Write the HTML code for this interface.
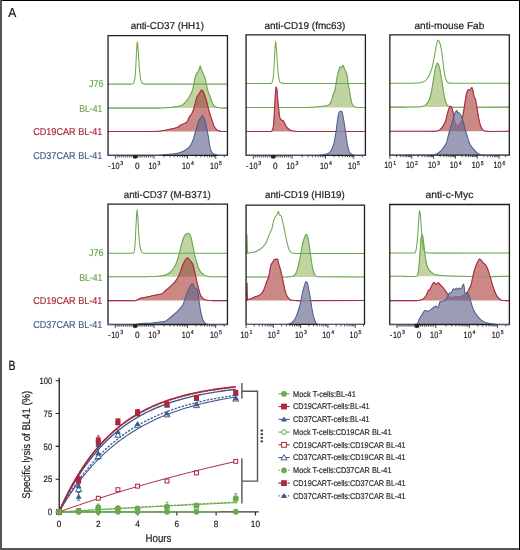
<!DOCTYPE html>
<html><head><meta charset="utf-8"><style>
html,body{margin:0;padding:0;background:#fff;overflow:hidden;width:520px;height:550px;}
svg{display:block;text-rendering:geometricPrecision;will-change:transform;font-family:"Liberation Sans", sans-serif;}
</style></head><body>
<svg width="520" height="550" viewBox="0 0 520 550">
<defs><clipPath id="c1"><path d="M160.00,108.10 L160.00,108.10 C161.80,108.00 163.60,107.93 165.40,107.80 C169.50,107.51 173.60,107.21 177.70,106.50 C179.23,106.23 180.77,105.75 182.30,105.00 C183.83,104.25 185.37,102.26 186.90,100.40 C187.93,99.15 188.97,97.72 190.00,95.80 C191.03,93.88 192.07,91.84 193.10,88.10 C193.60,86.29 194.10,81.72 194.60,79.60 C195.13,77.34 195.67,75.23 196.20,74.20 C196.97,72.72 197.73,72.59 198.50,71.20 C199.10,70.11 199.70,66.10 200.30,66.10 C200.70,66.10 201.10,68.53 201.50,69.60 C202.03,71.02 202.57,72.24 203.10,73.50 C203.77,75.08 204.43,75.94 205.10,78.10 C205.47,79.29 205.83,81.76 206.20,83.50 C206.70,85.88 207.20,88.69 207.70,90.40 C208.47,93.03 209.23,94.45 210.00,96.50 C210.77,98.55 211.53,101.13 212.30,102.70 C213.07,104.27 213.83,106.10 214.60,106.50 C216.13,107.30 217.67,107.57 219.20,107.80 C220.13,107.94 221.07,108.00 222.00,108.10 L222.00,108.10 Z"/></clipPath>
<clipPath id="c2"><path d="M145.00,131.40 L145.00,131.50 C149.73,131.40 154.47,131.39 159.20,131.20 C162.30,131.08 165.40,130.24 168.50,129.60 C170.00,129.29 171.50,128.87 173.00,128.50 C174.57,128.11 176.13,127.92 177.70,127.30 C178.73,126.89 179.77,125.64 180.80,125.00 C182.83,123.75 184.87,123.71 186.90,121.90 C187.67,121.22 188.43,118.62 189.20,117.30 C190.23,115.53 191.27,114.79 192.30,112.70 C193.07,111.15 193.83,108.34 194.60,105.80 C195.37,103.26 196.13,99.05 196.90,97.30 C197.67,95.55 198.43,94.70 199.20,93.50 C199.97,92.30 200.73,90.10 201.50,90.10 C202.03,90.10 202.57,90.62 203.10,91.20 C203.60,91.74 204.10,93.65 204.60,95.00 C205.13,96.44 205.67,97.79 206.20,99.60 C206.70,101.30 207.20,103.85 207.70,105.80 C208.47,108.79 209.23,111.65 210.00,114.20 C210.77,116.75 211.53,119.03 212.30,121.20 C213.07,123.37 213.83,126.16 214.60,127.30 C215.63,128.84 216.67,129.92 217.70,130.40 C218.80,130.91 219.90,131.07 221.00,131.40 L221.00,131.40 Z"/></clipPath>
<clipPath id="c3"><path d="M300.00,107.40 L300.00,107.50 C304.17,107.42 308.33,107.39 312.50,107.25 C315.00,107.16 317.50,106.85 320.00,106.60 C321.67,106.43 323.33,106.30 325.00,106.00 C326.47,105.73 327.93,105.36 329.40,104.40 C330.02,103.99 330.63,102.65 331.25,101.25 C331.87,99.85 332.48,96.83 333.10,95.00 C333.73,93.13 334.37,92.38 335.00,90.00 C335.42,88.43 335.83,85.00 336.25,82.50 C336.67,80.00 337.08,76.81 337.50,75.00 C338.13,72.25 338.77,70.58 339.40,68.75 C339.68,67.93 339.97,66.50 340.25,66.50 C340.67,66.50 341.08,67.50 341.50,67.50 C342.03,67.50 342.57,65.25 343.10,65.25 C343.53,65.25 343.97,67.74 344.40,68.75 C345.02,70.19 345.63,70.83 346.25,72.50 C346.58,73.40 346.92,74.48 347.25,76.25 C347.53,77.76 347.82,81.95 348.10,83.75 C348.53,86.50 348.97,87.64 349.40,90.00 C349.80,92.18 350.20,95.53 350.60,97.50 C351.23,100.62 351.87,104.17 352.50,105.00 C353.33,106.10 354.17,106.60 355.00,106.90 C355.83,107.20 356.67,107.30 357.50,107.50 L357.50,107.40 Z"/></clipPath>
<clipPath id="c4"><path d="M269.00,131.50 L269.00,131.50 C269.67,131.47 270.33,131.47 271.00,131.40 C271.50,131.35 272.00,130.82 272.50,130.00 C272.83,129.45 273.17,127.54 273.50,125.00 C273.73,123.22 273.97,118.77 274.20,115.00 C274.47,110.69 274.73,104.23 275.00,100.00 C275.27,95.77 275.53,90.71 275.80,89.00 C275.97,87.93 276.13,86.80 276.30,86.80 C276.53,86.80 276.77,88.45 277.00,90.00 C277.27,91.77 277.53,97.02 277.80,100.00 C278.13,103.72 278.47,107.32 278.80,110.00 C279.20,113.22 279.60,117.09 280.00,118.00 C280.50,119.14 281.00,119.73 281.50,120.00 C282.00,120.27 282.50,120.22 283.00,120.50 C283.50,120.78 284.00,122.09 284.50,123.00 C285.00,123.91 285.50,125.22 286.00,126.00 C286.67,127.04 287.33,127.91 288.00,128.50 C289.00,129.39 290.00,130.18 291.00,130.50 C292.33,130.92 293.67,131.17 295.00,131.30 C296.00,131.40 297.00,131.43 298.00,131.50 L298.00,131.50 Z"/></clipPath>
<clipPath id="c5"><path d="M405.00,107.10 L405.00,107.20 C410.30,107.03 415.60,107.06 420.90,106.70 C422.50,106.59 424.10,105.87 425.70,104.90 C426.60,104.35 427.50,103.05 428.40,101.50 C429.10,100.29 429.80,98.46 430.50,96.00 C431.03,94.12 431.57,90.76 432.10,87.80 C432.70,84.47 433.30,80.39 433.90,76.90 C434.47,73.61 435.03,69.40 435.60,67.40 C436.17,65.40 436.73,63.00 437.30,63.00 C437.73,63.00 438.17,63.80 438.60,64.60 C439.17,65.65 439.73,68.75 440.30,71.50 C440.90,74.41 441.50,78.66 442.10,82.40 C442.67,85.93 443.23,90.18 443.80,93.30 C444.37,96.42 444.93,99.85 445.50,101.50 C446.17,103.44 446.83,105.11 447.50,105.60 C448.63,106.42 449.77,106.87 450.90,107.00 C451.93,107.11 452.97,107.13 454.00,107.20 L454.00,107.10 Z"/></clipPath>
<clipPath id="c6"><path d="M432.00,131.30 L432.00,131.40 C433.00,131.37 434.00,131.36 435.00,131.30 C436.40,131.22 437.80,130.85 439.20,130.30 C440.27,129.88 441.33,128.49 442.40,127.10 C443.43,125.75 444.47,124.04 445.50,121.30 C446.03,119.89 446.57,116.95 447.10,114.90 C447.67,112.72 448.23,109.86 448.80,108.60 C449.30,107.49 449.80,106.20 450.30,106.20 C450.83,106.20 451.37,107.06 451.90,108.00 C452.40,108.88 452.90,111.64 453.40,113.90 C453.80,115.71 454.20,118.78 454.60,120.20 C455.13,122.10 455.67,123.74 456.20,124.40 C456.73,125.06 457.27,125.70 457.80,125.70 C458.50,125.70 459.20,124.39 459.90,123.40 C460.60,122.41 461.30,121.20 462.00,119.20 C462.53,117.68 463.07,114.62 463.60,111.70 C464.13,108.78 464.67,104.44 465.20,101.20 C465.70,98.16 466.20,94.19 466.70,92.70 C467.23,91.12 467.77,89.50 468.30,89.50 C468.77,89.50 469.23,90.10 469.70,90.10 C470.13,90.10 470.57,88.95 471.00,88.50 C471.33,88.16 471.67,87.60 472.00,87.60 C472.37,87.60 472.73,90.08 473.10,91.60 C473.47,93.12 473.83,96.03 474.20,96.90 C474.53,97.69 474.87,97.73 475.20,98.50 C475.57,99.35 475.93,101.40 476.30,103.30 C476.63,105.02 476.97,107.55 477.30,109.60 C477.83,112.88 478.37,116.66 478.90,119.20 C479.43,121.74 479.97,124.06 480.50,125.50 C481.20,127.38 481.90,129.12 482.60,129.70 C483.67,130.59 484.73,131.24 485.80,131.30 C486.87,131.36 487.93,131.37 489.00,131.40 L489.00,131.30 Z"/></clipPath>
<clipPath id="c7"><path d="M140.00,276.70 L140.00,276.80 C144.10,276.70 148.20,276.64 152.30,276.50 C154.20,276.43 156.10,276.33 158.00,276.20 C159.87,276.07 161.73,275.92 163.60,275.60 C165.43,275.28 167.27,274.36 169.10,273.20 C170.93,272.04 172.77,269.80 174.60,266.80 C175.80,264.84 177.00,261.47 178.20,257.70 C179.10,254.87 180.00,250.11 180.90,246.80 C181.80,243.49 182.70,239.59 183.60,237.70 C184.40,236.02 185.20,234.47 186.00,234.00 C186.73,233.57 187.47,233.20 188.20,233.20 C188.80,233.20 189.40,234.08 190.00,235.00 C190.33,235.51 190.67,236.62 191.00,237.70 C191.57,239.54 192.13,242.37 192.70,245.00 C193.30,247.78 193.90,251.48 194.50,254.10 C195.13,256.87 195.77,259.25 196.40,261.40 C197.30,264.45 198.20,267.88 199.10,269.50 C200.33,271.72 201.57,273.22 202.80,274.10 C204.30,275.17 205.80,276.04 207.30,276.30 C208.87,276.58 210.43,276.63 212.00,276.80 L212.00,276.70 Z"/></clipPath>
<clipPath id="c8"><path d="M133.00,300.60 L133.00,300.80 C133.77,300.80 134.53,300.80 135.30,300.80 C136.20,300.80 137.10,300.02 138.00,299.60 C139.10,299.09 140.20,298.28 141.30,298.00 C142.67,297.65 144.03,297.55 145.40,297.30 C147.20,296.97 149.00,296.60 150.80,296.20 C152.57,295.81 154.33,295.25 156.10,294.90 C157.90,294.54 159.70,294.52 161.50,294.00 C162.83,293.61 164.17,291.65 165.50,290.50 C167.30,288.95 169.10,287.54 170.90,285.90 C172.13,284.77 173.37,283.77 174.60,282.30 C175.80,280.87 177.00,279.04 178.20,276.80 C179.10,275.12 180.00,272.90 180.90,270.50 C181.50,268.90 182.10,266.46 182.70,265.00 C183.63,262.73 184.57,260.71 185.50,259.50 C186.10,258.72 186.70,257.70 187.30,257.70 C188.20,257.70 189.10,259.45 190.00,260.50 C190.90,261.55 191.80,262.30 192.70,264.10 C193.30,265.30 193.90,268.05 194.50,270.50 C195.13,273.08 195.77,276.84 196.40,279.60 C197.00,282.21 197.60,284.59 198.20,286.80 C199.10,290.11 200.00,294.48 200.90,295.90 C202.10,297.80 203.30,299.05 204.50,299.50 C206.00,300.06 207.50,300.42 209.00,300.50 C210.00,300.56 211.00,300.57 212.00,300.60 L212.00,300.60 Z"/></clipPath>
<clipPath id="c9"><path d="M288.00,276.90 L288.00,276.80 C288.67,276.80 289.33,276.80 290.00,276.80 C291.33,276.80 292.67,276.24 294.00,275.50 C294.83,275.04 295.67,273.69 296.50,272.00 C297.17,270.65 297.83,267.68 298.50,265.00 C299.00,262.99 299.50,260.49 300.00,258.00 C300.50,255.51 301.00,252.51 301.50,250.00 C302.13,246.81 302.77,243.29 303.40,241.00 C303.97,238.95 304.53,237.06 305.10,236.00 C305.50,235.25 305.90,234.30 306.30,234.30 C306.70,234.30 307.10,235.11 307.50,236.00 C307.93,236.96 308.37,240.46 308.80,243.00 C309.27,245.73 309.73,248.73 310.20,252.00 C310.63,255.04 311.07,259.26 311.50,262.00 C312.00,265.16 312.50,268.27 313.00,270.00 C313.67,272.31 314.33,274.33 315.00,275.00 C316.00,276.01 317.00,276.80 318.00,276.80 C318.67,276.80 319.33,276.80 320.00,276.80 L320.00,276.90 Z"/></clipPath>
<clipPath id="c10"><path d="M247.00,300.50 L247.00,282.80 C247.17,288.27 247.33,299.20 247.50,299.20 C248.00,299.20 248.50,299.20 249.00,299.20 C250.17,299.20 251.33,298.55 252.50,298.10 C253.53,297.70 254.57,297.02 255.60,296.60 C256.67,296.17 257.73,296.01 258.80,295.50 C259.70,295.07 260.60,294.34 261.50,293.40 C262.20,292.67 262.90,291.57 263.60,290.20 C264.13,289.16 264.67,287.49 265.20,286.00 C265.73,284.51 266.27,282.53 266.80,281.20 C267.30,279.96 267.80,279.45 268.30,278.00 C268.67,276.94 269.03,275.11 269.40,273.30 C269.77,271.49 270.13,268.38 270.50,266.90 C270.83,265.56 271.17,264.45 271.50,263.80 C272.03,262.75 272.57,262.46 273.10,261.60 C273.47,261.01 273.83,259.60 274.20,259.50 C274.70,259.37 275.20,259.37 275.70,259.30 C276.37,259.21 277.03,259.00 277.70,259.00 C277.93,259.00 278.17,261.72 278.40,262.70 C278.93,264.94 279.47,266.08 280.00,268.00 C280.53,269.92 281.07,272.03 281.60,274.30 C282.13,276.57 282.67,279.14 283.20,281.70 C283.70,284.10 284.20,287.23 284.70,289.20 C285.23,291.31 285.77,293.16 286.30,294.40 C287.00,296.02 287.70,297.39 288.40,298.10 C289.47,299.19 290.53,300.16 291.60,300.30 C293.07,300.49 294.53,300.50 296.00,300.60 L296.00,300.50 Z"/></clipPath>
<clipPath id="c11"><path d="M405.00,276.30 L405.00,276.60 C408.87,276.53 412.73,276.58 416.60,276.40 C417.07,276.38 417.53,274.89 418.00,273.20 C418.43,271.63 418.87,266.84 419.30,262.30 C419.63,258.81 419.97,253.26 420.30,248.70 C420.57,245.05 420.83,238.93 421.10,237.70 C421.43,236.16 421.77,235.36 422.10,235.00 C422.23,234.86 422.37,234.70 422.50,234.70 C422.80,234.70 423.10,238.20 423.40,240.50 C423.73,243.05 424.07,247.21 424.40,250.00 C424.77,253.07 425.13,255.93 425.50,258.20 C425.93,260.88 426.37,263.58 426.80,265.00 C427.50,267.30 428.20,268.81 428.90,269.80 C429.80,271.07 430.70,271.81 431.60,272.50 C432.73,273.37 433.87,274.29 435.00,274.60 C436.83,275.10 438.67,275.35 440.50,275.50 C443.67,275.76 446.83,275.90 450.00,276.00 C456.67,276.20 463.33,276.31 470.00,276.40 C476.67,276.49 483.33,276.53 490.00,276.60 L490.00,276.30 Z"/></clipPath>
<clipPath id="c12"><path d="M412.00,300.60 L412.00,300.60 C413.00,300.60 414.00,300.60 415.00,300.60 C417.43,300.60 419.87,300.15 422.30,299.40 C423.53,299.02 424.77,297.38 426.00,295.70 C426.90,294.47 427.80,291.15 428.70,290.20 C429.13,289.74 429.57,289.67 430.00,289.20 C430.57,288.58 431.13,286.81 431.70,285.80 C432.43,284.49 433.17,282.30 433.90,282.30 C434.63,282.30 435.37,284.50 436.10,284.50 C436.80,284.50 437.50,282.80 438.20,282.80 C438.93,282.80 439.67,284.18 440.40,284.90 C441.27,285.75 442.13,286.51 443.00,287.50 C443.87,288.49 444.73,289.80 445.60,291.00 C446.30,291.97 447.00,293.14 447.70,294.00 C448.73,295.27 449.77,297.30 450.80,297.30 C451.67,297.30 452.53,297.13 453.40,297.00 C454.27,296.87 455.13,296.40 456.00,296.40 C457.13,296.40 458.27,296.60 459.40,296.60 C460.57,296.60 461.73,295.86 462.90,295.30 C463.77,294.88 464.63,294.19 465.50,293.60 C466.07,293.21 466.63,292.98 467.20,292.40 C467.77,291.82 468.33,290.27 468.90,289.20 C469.50,288.07 470.10,287.38 470.70,285.80 C471.27,284.31 471.83,280.91 472.40,278.50 C473.07,275.67 473.73,272.27 474.40,270.10 C475.33,267.06 476.27,264.69 477.20,262.80 C477.93,261.31 478.67,259.10 479.40,259.10 C480.00,259.10 480.60,259.61 481.20,260.10 C481.80,260.59 482.40,262.19 483.00,262.80 C483.80,263.61 484.60,263.73 485.40,264.60 C486.30,265.58 487.20,267.84 488.10,270.10 C489.03,272.44 489.97,276.19 490.90,279.30 C491.80,282.29 492.70,285.97 493.60,288.40 C494.83,291.73 496.07,295.10 497.30,296.60 C498.80,298.43 500.30,300.06 501.80,300.30 C502.87,300.47 503.93,300.50 505.00,300.60 L505.00,300.60 Z"/></clipPath></defs>
<rect x="0" y="0" width="520" height="550" fill="#fff"/>
<text x="8.20" y="17.10" font-size="13.00" fill="#111" text-anchor="start" textLength="8.00" lengthAdjust="spacingAndGlyphs" stroke="#111" stroke-width="0.20" >A</text>
<path d="M160.00,108.10 L160.00,108.10 C161.80,108.00 163.60,107.93 165.40,107.80 C169.50,107.51 173.60,107.21 177.70,106.50 C179.23,106.23 180.77,105.75 182.30,105.00 C183.83,104.25 185.37,102.26 186.90,100.40 C187.93,99.15 188.97,97.72 190.00,95.80 C191.03,93.88 192.07,91.84 193.10,88.10 C193.60,86.29 194.10,81.72 194.60,79.60 C195.13,77.34 195.67,75.23 196.20,74.20 C196.97,72.72 197.73,72.59 198.50,71.20 C199.10,70.11 199.70,66.10 200.30,66.10 C200.70,66.10 201.10,68.53 201.50,69.60 C202.03,71.02 202.57,72.24 203.10,73.50 C203.77,75.08 204.43,75.94 205.10,78.10 C205.47,79.29 205.83,81.76 206.20,83.50 C206.70,85.88 207.20,88.69 207.70,90.40 C208.47,93.03 209.23,94.45 210.00,96.50 C210.77,98.55 211.53,101.13 212.30,102.70 C213.07,104.27 213.83,106.10 214.60,106.50 C216.13,107.30 217.67,107.57 219.20,107.80 C220.13,107.94 221.07,108.00 222.00,108.10 L222.00,108.10 Z" fill="#c0d3a1"/>
<path d="M108.05,84.10 L131.50,84.10 L131.50,84.10 C132.07,83.93 132.63,83.91 133.20,83.60 C133.67,83.35 134.13,81.97 134.60,80.00 C134.93,78.59 135.27,74.47 135.60,70.00 C135.90,65.98 136.20,56.74 136.50,52.00 C136.77,47.79 137.03,41.50 137.30,41.50 C137.60,41.50 137.90,46.45 138.20,50.00 C138.53,53.94 138.87,61.77 139.20,66.00 C139.53,70.23 139.87,74.35 140.20,76.50 C140.60,79.08 141.00,81.26 141.40,82.00 C141.93,82.99 142.47,83.65 143.00,83.80 C143.67,83.98 144.33,84.00 145.00,84.10 L227.45,84.10" fill="none" stroke="#6ca84f" stroke-width="1.05"/>
<path d="M108.05,108.10 L160.00,108.10 L160.00,108.10 C161.80,108.00 163.60,107.93 165.40,107.80 C169.50,107.51 173.60,107.21 177.70,106.50 C179.23,106.23 180.77,105.75 182.30,105.00 C183.83,104.25 185.37,102.26 186.90,100.40 C187.93,99.15 188.97,97.72 190.00,95.80 C191.03,93.88 192.07,91.84 193.10,88.10 C193.60,86.29 194.10,81.72 194.60,79.60 C195.13,77.34 195.67,75.23 196.20,74.20 C196.97,72.72 197.73,72.59 198.50,71.20 C199.10,70.11 199.70,66.10 200.30,66.10 C200.70,66.10 201.10,68.53 201.50,69.60 C202.03,71.02 202.57,72.24 203.10,73.50 C203.77,75.08 204.43,75.94 205.10,78.10 C205.47,79.29 205.83,81.76 206.20,83.50 C206.70,85.88 207.20,88.69 207.70,90.40 C208.47,93.03 209.23,94.45 210.00,96.50 C210.77,98.55 211.53,101.13 212.30,102.70 C213.07,104.27 213.83,106.10 214.60,106.50 C216.13,107.30 217.67,107.57 219.20,107.80 C220.13,107.94 221.07,108.00 222.00,108.10 L227.45,108.10" fill="none" stroke="#6ca84f" stroke-width="1.05"/>
<path d="M145.00,131.40 L145.00,131.50 C149.73,131.40 154.47,131.39 159.20,131.20 C162.30,131.08 165.40,130.24 168.50,129.60 C170.00,129.29 171.50,128.87 173.00,128.50 C174.57,128.11 176.13,127.92 177.70,127.30 C178.73,126.89 179.77,125.64 180.80,125.00 C182.83,123.75 184.87,123.71 186.90,121.90 C187.67,121.22 188.43,118.62 189.20,117.30 C190.23,115.53 191.27,114.79 192.30,112.70 C193.07,111.15 193.83,108.34 194.60,105.80 C195.37,103.26 196.13,99.05 196.90,97.30 C197.67,95.55 198.43,94.70 199.20,93.50 C199.97,92.30 200.73,90.10 201.50,90.10 C202.03,90.10 202.57,90.62 203.10,91.20 C203.60,91.74 204.10,93.65 204.60,95.00 C205.13,96.44 205.67,97.79 206.20,99.60 C206.70,101.30 207.20,103.85 207.70,105.80 C208.47,108.79 209.23,111.65 210.00,114.20 C210.77,116.75 211.53,119.03 212.30,121.20 C213.07,123.37 213.83,126.16 214.60,127.30 C215.63,128.84 216.67,129.92 217.70,130.40 C218.80,130.91 219.90,131.07 221.00,131.40 L221.00,131.40 Z" fill="#cb8884"/>
<path d="M145.00,131.40 L145.00,131.50 C149.73,131.40 154.47,131.39 159.20,131.20 C162.30,131.08 165.40,130.24 168.50,129.60 C170.00,129.29 171.50,128.87 173.00,128.50 C174.57,128.11 176.13,127.92 177.70,127.30 C178.73,126.89 179.77,125.64 180.80,125.00 C182.83,123.75 184.87,123.71 186.90,121.90 C187.67,121.22 188.43,118.62 189.20,117.30 C190.23,115.53 191.27,114.79 192.30,112.70 C193.07,111.15 193.83,108.34 194.60,105.80 C195.37,103.26 196.13,99.05 196.90,97.30 C197.67,95.55 198.43,94.70 199.20,93.50 C199.97,92.30 200.73,90.10 201.50,90.10 C202.03,90.10 202.57,90.62 203.10,91.20 C203.60,91.74 204.10,93.65 204.60,95.00 C205.13,96.44 205.67,97.79 206.20,99.60 C206.70,101.30 207.20,103.85 207.70,105.80 C208.47,108.79 209.23,111.65 210.00,114.20 C210.77,116.75 211.53,119.03 212.30,121.20 C213.07,123.37 213.83,126.16 214.60,127.30 C215.63,128.84 216.67,129.92 217.70,130.40 C218.80,130.91 219.90,131.07 221.00,131.40 L221.00,131.40 Z" fill="#ab7866" clip-path="url(#c1)"/>
<path d="M108.05,108.10 L160.00,108.10 L160.00,108.10 C161.80,108.00 163.60,107.93 165.40,107.80 C169.50,107.51 173.60,107.21 177.70,106.50 C179.23,106.23 180.77,105.75 182.30,105.00 C183.83,104.25 185.37,102.26 186.90,100.40 C187.93,99.15 188.97,97.72 190.00,95.80 C191.03,93.88 192.07,91.84 193.10,88.10 C193.60,86.29 194.10,81.72 194.60,79.60 C195.13,77.34 195.67,75.23 196.20,74.20 C196.97,72.72 197.73,72.59 198.50,71.20 C199.10,70.11 199.70,66.10 200.30,66.10 C200.70,66.10 201.10,68.53 201.50,69.60 C202.03,71.02 202.57,72.24 203.10,73.50 C203.77,75.08 204.43,75.94 205.10,78.10 C205.47,79.29 205.83,81.76 206.20,83.50 C206.70,85.88 207.20,88.69 207.70,90.40 C208.47,93.03 209.23,94.45 210.00,96.50 C210.77,98.55 211.53,101.13 212.30,102.70 C213.07,104.27 213.83,106.10 214.60,106.50 C216.13,107.30 217.67,107.57 219.20,107.80 C220.13,107.94 221.07,108.00 222.00,108.10 L227.45,108.10" fill="none" stroke="#6ca84f" stroke-width="1.05" opacity="0.35"/>
<path d="M108.05,131.40 L145.00,131.40 L145.00,131.50 C149.73,131.40 154.47,131.39 159.20,131.20 C162.30,131.08 165.40,130.24 168.50,129.60 C170.00,129.29 171.50,128.87 173.00,128.50 C174.57,128.11 176.13,127.92 177.70,127.30 C178.73,126.89 179.77,125.64 180.80,125.00 C182.83,123.75 184.87,123.71 186.90,121.90 C187.67,121.22 188.43,118.62 189.20,117.30 C190.23,115.53 191.27,114.79 192.30,112.70 C193.07,111.15 193.83,108.34 194.60,105.80 C195.37,103.26 196.13,99.05 196.90,97.30 C197.67,95.55 198.43,94.70 199.20,93.50 C199.97,92.30 200.73,90.10 201.50,90.10 C202.03,90.10 202.57,90.62 203.10,91.20 C203.60,91.74 204.10,93.65 204.60,95.00 C205.13,96.44 205.67,97.79 206.20,99.60 C206.70,101.30 207.20,103.85 207.70,105.80 C208.47,108.79 209.23,111.65 210.00,114.20 C210.77,116.75 211.53,119.03 212.30,121.20 C213.07,123.37 213.83,126.16 214.60,127.30 C215.63,128.84 216.67,129.92 217.70,130.40 C218.80,130.91 219.90,131.07 221.00,131.40 L227.45,131.40" fill="none" stroke="#aa2a42" stroke-width="1.05"/>
<path d="M158.00,155.30 L158.00,155.30 C160.47,155.07 162.93,154.82 165.40,154.60 C168.47,154.32 171.53,154.20 174.60,153.80 C176.67,153.53 178.73,152.98 180.80,152.30 C182.83,151.63 184.87,150.64 186.90,149.20 C188.20,148.28 189.50,146.97 190.80,145.00 C191.40,144.09 192.00,142.56 192.60,141.00 C193.33,139.09 194.07,136.41 194.80,134.00 C195.53,131.59 196.27,129.06 197.00,126.50 C197.47,124.87 197.93,122.67 198.40,121.50 C198.67,120.83 198.93,120.28 199.20,119.90 C199.63,119.28 200.07,119.03 200.50,118.50 C201.17,117.68 201.83,115.60 202.50,115.60 C202.93,115.60 203.37,116.87 203.80,117.70 C204.27,118.59 204.73,119.54 205.20,121.00 C205.73,122.67 206.27,125.96 206.80,128.60 C207.37,131.41 207.93,133.96 208.50,137.40 C208.83,139.42 209.17,142.71 209.50,144.50 C210.00,147.18 210.50,149.70 211.00,150.80 C211.70,152.33 212.40,153.46 213.10,153.80 C214.63,154.54 216.17,154.74 217.70,155.00 C218.47,155.13 219.23,155.20 220.00,155.30 L220.00,155.30 Z" fill="#9b9db7"/>
<path d="M158.00,155.30 L158.00,155.30 C160.47,155.07 162.93,154.82 165.40,154.60 C168.47,154.32 171.53,154.20 174.60,153.80 C176.67,153.53 178.73,152.98 180.80,152.30 C182.83,151.63 184.87,150.64 186.90,149.20 C188.20,148.28 189.50,146.97 190.80,145.00 C191.40,144.09 192.00,142.56 192.60,141.00 C193.33,139.09 194.07,136.41 194.80,134.00 C195.53,131.59 196.27,129.06 197.00,126.50 C197.47,124.87 197.93,122.67 198.40,121.50 C198.67,120.83 198.93,120.28 199.20,119.90 C199.63,119.28 200.07,119.03 200.50,118.50 C201.17,117.68 201.83,115.60 202.50,115.60 C202.93,115.60 203.37,116.87 203.80,117.70 C204.27,118.59 204.73,119.54 205.20,121.00 C205.73,122.67 206.27,125.96 206.80,128.60 C207.37,131.41 207.93,133.96 208.50,137.40 C208.83,139.42 209.17,142.71 209.50,144.50 C210.00,147.18 210.50,149.70 211.00,150.80 C211.70,152.33 212.40,153.46 213.10,153.80 C214.63,154.54 216.17,154.74 217.70,155.00 C218.47,155.13 219.23,155.20 220.00,155.30 L220.00,155.30 Z" fill="#8a7088" clip-path="url(#c2)"/>
<path d="M108.05,131.40 L145.00,131.40 L145.00,131.50 C149.73,131.40 154.47,131.39 159.20,131.20 C162.30,131.08 165.40,130.24 168.50,129.60 C170.00,129.29 171.50,128.87 173.00,128.50 C174.57,128.11 176.13,127.92 177.70,127.30 C178.73,126.89 179.77,125.64 180.80,125.00 C182.83,123.75 184.87,123.71 186.90,121.90 C187.67,121.22 188.43,118.62 189.20,117.30 C190.23,115.53 191.27,114.79 192.30,112.70 C193.07,111.15 193.83,108.34 194.60,105.80 C195.37,103.26 196.13,99.05 196.90,97.30 C197.67,95.55 198.43,94.70 199.20,93.50 C199.97,92.30 200.73,90.10 201.50,90.10 C202.03,90.10 202.57,90.62 203.10,91.20 C203.60,91.74 204.10,93.65 204.60,95.00 C205.13,96.44 205.67,97.79 206.20,99.60 C206.70,101.30 207.20,103.85 207.70,105.80 C208.47,108.79 209.23,111.65 210.00,114.20 C210.77,116.75 211.53,119.03 212.30,121.20 C213.07,123.37 213.83,126.16 214.60,127.30 C215.63,128.84 216.67,129.92 217.70,130.40 C218.80,130.91 219.90,131.07 221.00,131.40 L227.45,131.40" fill="none" stroke="#aa2a42" stroke-width="1.05" opacity="0.35"/>
<path d="M108.05,35.55 L227.45,35.55 L227.45,155.30 L108.05,155.30 Z" fill="none" stroke="#1e1e1e" stroke-width="1.3"/>
<path d="M108.05,155.30 L158.00,155.30 L158.00,155.30 C160.47,155.07 162.93,154.82 165.40,154.60 C168.47,154.32 171.53,154.20 174.60,153.80 C176.67,153.53 178.73,152.98 180.80,152.30 C182.83,151.63 184.87,150.64 186.90,149.20 C188.20,148.28 189.50,146.97 190.80,145.00 C191.40,144.09 192.00,142.56 192.60,141.00 C193.33,139.09 194.07,136.41 194.80,134.00 C195.53,131.59 196.27,129.06 197.00,126.50 C197.47,124.87 197.93,122.67 198.40,121.50 C198.67,120.83 198.93,120.28 199.20,119.90 C199.63,119.28 200.07,119.03 200.50,118.50 C201.17,117.68 201.83,115.60 202.50,115.60 C202.93,115.60 203.37,116.87 203.80,117.70 C204.27,118.59 204.73,119.54 205.20,121.00 C205.73,122.67 206.27,125.96 206.80,128.60 C207.37,131.41 207.93,133.96 208.50,137.40 C208.83,139.42 209.17,142.71 209.50,144.50 C210.00,147.18 210.50,149.70 211.00,150.80 C211.70,152.33 212.40,153.46 213.10,153.80 C214.63,154.54 216.17,154.74 217.70,155.00 C218.47,155.13 219.23,155.20 220.00,155.30 L227.45,155.30" fill="none" stroke="#46618e" stroke-width="1.05"/>
<text x="130.70" y="28.80" font-size="10.00" fill="#222" text-anchor="start" textLength="73.30" lengthAdjust="spacingAndGlyphs" stroke="#222" stroke-width="0.20" >anti-CD37 (HH1)</text>
<path d="M115.30,155.30 v3.60 M135.25,155.30 v3.60 M154.05,155.30 v3.60 M187.55,155.30 v3.60 M215.75,155.30 v3.60 M133.25,155.30 v2.20 M137.13,155.30 v2.20 M135.05,155.30 v2.80 M135.44,155.30 v2.80 M131.26,155.30 v2.20 M139.01,155.30 v2.20 M134.85,155.30 v2.80 M135.63,155.30 v2.80 M129.26,155.30 v2.20 M140.89,155.30 v2.20 M134.65,155.30 v2.80 M135.81,155.30 v2.80 M127.27,155.30 v2.20 M142.77,155.30 v2.20 M134.45,155.30 v2.80 M136.00,155.30 v2.80 M125.28,155.30 v2.20 M144.65,155.30 v2.20 M134.25,155.30 v2.80 M136.19,155.30 v2.80 M123.28,155.30 v2.20 M146.53,155.30 v2.20 M134.05,155.30 v2.80 M136.38,155.30 v2.80 M121.28,155.30 v2.20 M148.41,155.30 v2.20 M133.85,155.30 v2.80 M136.57,155.30 v2.80 M119.29,155.30 v2.20 M150.29,155.30 v2.20 M133.65,155.30 v2.80 M136.75,155.30 v2.80 M117.29,155.30 v2.20 M152.17,155.30 v2.20 M133.45,155.30 v2.80 M136.94,155.30 v2.80 M164.13,155.30 v2.00 M170.03,155.30 v2.00 M174.22,155.30 v2.00 M177.47,155.30 v2.00 M180.12,155.30 v2.00 M182.36,155.30 v2.00 M184.30,155.30 v2.00 M186.02,155.30 v2.00 M196.04,155.30 v2.00 M201.00,155.30 v2.00 M204.53,155.30 v2.00 M207.26,155.30 v2.00 M209.49,155.30 v2.00 M211.38,155.30 v2.00 M213.02,155.30 v2.00 M214.46,155.30 v2.00 M224.24,155.30 v2.00 " stroke="#222" stroke-width="0.8" fill="none"/>
<text x="107.95" y="168.50" font-size="9.00" fill="#222" text-anchor="start" textLength="2.60" lengthAdjust="spacingAndGlyphs" stroke="#222" stroke-width="0.20" >-</text>
<text x="111.35" y="168.50" font-size="9.00" fill="#222" text-anchor="start" textLength="8.10" lengthAdjust="spacingAndGlyphs" stroke="#222" stroke-width="0.20" >10</text>
<text x="120.35" y="165.10" font-size="5.80" fill="#222" text-anchor="start" textLength="2.90" lengthAdjust="spacingAndGlyphs" stroke="#222" stroke-width="0.20" >3</text>
<text x="137.35" y="168.50" font-size="9.00" fill="#222" text-anchor="middle" textLength="4.60" lengthAdjust="spacingAndGlyphs" stroke="#222" stroke-width="0.20" >0</text>
<text x="148.40" y="168.50" font-size="9.00" fill="#222" text-anchor="start" textLength="8.10" lengthAdjust="spacingAndGlyphs" stroke="#222" stroke-width="0.20" >10</text>
<text x="157.40" y="165.10" font-size="5.80" fill="#222" text-anchor="start" textLength="2.90" lengthAdjust="spacingAndGlyphs" stroke="#222" stroke-width="0.20" >3</text>
<text x="181.90" y="168.50" font-size="9.00" fill="#222" text-anchor="start" textLength="8.10" lengthAdjust="spacingAndGlyphs" stroke="#222" stroke-width="0.20" >10</text>
<text x="190.90" y="165.10" font-size="5.80" fill="#222" text-anchor="start" textLength="2.90" lengthAdjust="spacingAndGlyphs" stroke="#222" stroke-width="0.20" >4</text>
<text x="210.10" y="168.50" font-size="9.00" fill="#222" text-anchor="start" textLength="8.10" lengthAdjust="spacingAndGlyphs" stroke="#222" stroke-width="0.20" >10</text>
<text x="219.10" y="165.10" font-size="5.80" fill="#222" text-anchor="start" textLength="2.90" lengthAdjust="spacingAndGlyphs" stroke="#222" stroke-width="0.20" >5</text>
<path d="M300.00,107.40 L300.00,107.50 C304.17,107.42 308.33,107.39 312.50,107.25 C315.00,107.16 317.50,106.85 320.00,106.60 C321.67,106.43 323.33,106.30 325.00,106.00 C326.47,105.73 327.93,105.36 329.40,104.40 C330.02,103.99 330.63,102.65 331.25,101.25 C331.87,99.85 332.48,96.83 333.10,95.00 C333.73,93.13 334.37,92.38 335.00,90.00 C335.42,88.43 335.83,85.00 336.25,82.50 C336.67,80.00 337.08,76.81 337.50,75.00 C338.13,72.25 338.77,70.58 339.40,68.75 C339.68,67.93 339.97,66.50 340.25,66.50 C340.67,66.50 341.08,67.50 341.50,67.50 C342.03,67.50 342.57,65.25 343.10,65.25 C343.53,65.25 343.97,67.74 344.40,68.75 C345.02,70.19 345.63,70.83 346.25,72.50 C346.58,73.40 346.92,74.48 347.25,76.25 C347.53,77.76 347.82,81.95 348.10,83.75 C348.53,86.50 348.97,87.64 349.40,90.00 C349.80,92.18 350.20,95.53 350.60,97.50 C351.23,100.62 351.87,104.17 352.50,105.00 C353.33,106.10 354.17,106.60 355.00,106.90 C355.83,107.20 356.67,107.30 357.50,107.50 L357.50,107.40 Z" fill="#c0d3a1"/>
<path d="M246.06,83.40 L270.00,83.40 L270.00,83.40 C270.60,83.27 271.20,83.27 271.80,83.00 C272.20,82.82 272.60,81.08 273.00,79.00 C273.33,77.27 273.67,72.78 274.00,68.00 C274.27,64.17 274.53,56.27 274.80,52.00 C275.07,47.73 275.33,41.30 275.60,41.30 C275.90,41.30 276.20,46.40 276.50,50.00 C276.83,54.00 277.17,61.88 277.50,66.00 C277.87,70.53 278.23,74.98 278.60,77.00 C279.07,79.57 279.53,81.73 280.00,82.20 C280.67,82.87 281.33,83.24 282.00,83.30 C282.67,83.36 283.33,83.37 284.00,83.40 L365.40,83.40" fill="none" stroke="#6ca84f" stroke-width="1.05"/>
<path d="M246.06,107.40 L300.00,107.40 L300.00,107.50 C304.17,107.42 308.33,107.39 312.50,107.25 C315.00,107.16 317.50,106.85 320.00,106.60 C321.67,106.43 323.33,106.30 325.00,106.00 C326.47,105.73 327.93,105.36 329.40,104.40 C330.02,103.99 330.63,102.65 331.25,101.25 C331.87,99.85 332.48,96.83 333.10,95.00 C333.73,93.13 334.37,92.38 335.00,90.00 C335.42,88.43 335.83,85.00 336.25,82.50 C336.67,80.00 337.08,76.81 337.50,75.00 C338.13,72.25 338.77,70.58 339.40,68.75 C339.68,67.93 339.97,66.50 340.25,66.50 C340.67,66.50 341.08,67.50 341.50,67.50 C342.03,67.50 342.57,65.25 343.10,65.25 C343.53,65.25 343.97,67.74 344.40,68.75 C345.02,70.19 345.63,70.83 346.25,72.50 C346.58,73.40 346.92,74.48 347.25,76.25 C347.53,77.76 347.82,81.95 348.10,83.75 C348.53,86.50 348.97,87.64 349.40,90.00 C349.80,92.18 350.20,95.53 350.60,97.50 C351.23,100.62 351.87,104.17 352.50,105.00 C353.33,106.10 354.17,106.60 355.00,106.90 C355.83,107.20 356.67,107.30 357.50,107.50 L365.40,107.40" fill="none" stroke="#6ca84f" stroke-width="1.05"/>
<path d="M269.00,131.50 L269.00,131.50 C269.67,131.47 270.33,131.47 271.00,131.40 C271.50,131.35 272.00,130.82 272.50,130.00 C272.83,129.45 273.17,127.54 273.50,125.00 C273.73,123.22 273.97,118.77 274.20,115.00 C274.47,110.69 274.73,104.23 275.00,100.00 C275.27,95.77 275.53,90.71 275.80,89.00 C275.97,87.93 276.13,86.80 276.30,86.80 C276.53,86.80 276.77,88.45 277.00,90.00 C277.27,91.77 277.53,97.02 277.80,100.00 C278.13,103.72 278.47,107.32 278.80,110.00 C279.20,113.22 279.60,117.09 280.00,118.00 C280.50,119.14 281.00,119.73 281.50,120.00 C282.00,120.27 282.50,120.22 283.00,120.50 C283.50,120.78 284.00,122.09 284.50,123.00 C285.00,123.91 285.50,125.22 286.00,126.00 C286.67,127.04 287.33,127.91 288.00,128.50 C289.00,129.39 290.00,130.18 291.00,130.50 C292.33,130.92 293.67,131.17 295.00,131.30 C296.00,131.40 297.00,131.43 298.00,131.50 L298.00,131.50 Z" fill="#cb8884"/>
<path d="M269.00,131.50 L269.00,131.50 C269.67,131.47 270.33,131.47 271.00,131.40 C271.50,131.35 272.00,130.82 272.50,130.00 C272.83,129.45 273.17,127.54 273.50,125.00 C273.73,123.22 273.97,118.77 274.20,115.00 C274.47,110.69 274.73,104.23 275.00,100.00 C275.27,95.77 275.53,90.71 275.80,89.00 C275.97,87.93 276.13,86.80 276.30,86.80 C276.53,86.80 276.77,88.45 277.00,90.00 C277.27,91.77 277.53,97.02 277.80,100.00 C278.13,103.72 278.47,107.32 278.80,110.00 C279.20,113.22 279.60,117.09 280.00,118.00 C280.50,119.14 281.00,119.73 281.50,120.00 C282.00,120.27 282.50,120.22 283.00,120.50 C283.50,120.78 284.00,122.09 284.50,123.00 C285.00,123.91 285.50,125.22 286.00,126.00 C286.67,127.04 287.33,127.91 288.00,128.50 C289.00,129.39 290.00,130.18 291.00,130.50 C292.33,130.92 293.67,131.17 295.00,131.30 C296.00,131.40 297.00,131.43 298.00,131.50 L298.00,131.50 Z" fill="#ab7866" clip-path="url(#c3)"/>
<path d="M246.06,107.40 L300.00,107.40 L300.00,107.50 C304.17,107.42 308.33,107.39 312.50,107.25 C315.00,107.16 317.50,106.85 320.00,106.60 C321.67,106.43 323.33,106.30 325.00,106.00 C326.47,105.73 327.93,105.36 329.40,104.40 C330.02,103.99 330.63,102.65 331.25,101.25 C331.87,99.85 332.48,96.83 333.10,95.00 C333.73,93.13 334.37,92.38 335.00,90.00 C335.42,88.43 335.83,85.00 336.25,82.50 C336.67,80.00 337.08,76.81 337.50,75.00 C338.13,72.25 338.77,70.58 339.40,68.75 C339.68,67.93 339.97,66.50 340.25,66.50 C340.67,66.50 341.08,67.50 341.50,67.50 C342.03,67.50 342.57,65.25 343.10,65.25 C343.53,65.25 343.97,67.74 344.40,68.75 C345.02,70.19 345.63,70.83 346.25,72.50 C346.58,73.40 346.92,74.48 347.25,76.25 C347.53,77.76 347.82,81.95 348.10,83.75 C348.53,86.50 348.97,87.64 349.40,90.00 C349.80,92.18 350.20,95.53 350.60,97.50 C351.23,100.62 351.87,104.17 352.50,105.00 C353.33,106.10 354.17,106.60 355.00,106.90 C355.83,107.20 356.67,107.30 357.50,107.50 L365.40,107.40" fill="none" stroke="#6ca84f" stroke-width="1.05" opacity="0.35"/>
<path d="M246.06,131.50 L269.00,131.50 L269.00,131.50 C269.67,131.47 270.33,131.47 271.00,131.40 C271.50,131.35 272.00,130.82 272.50,130.00 C272.83,129.45 273.17,127.54 273.50,125.00 C273.73,123.22 273.97,118.77 274.20,115.00 C274.47,110.69 274.73,104.23 275.00,100.00 C275.27,95.77 275.53,90.71 275.80,89.00 C275.97,87.93 276.13,86.80 276.30,86.80 C276.53,86.80 276.77,88.45 277.00,90.00 C277.27,91.77 277.53,97.02 277.80,100.00 C278.13,103.72 278.47,107.32 278.80,110.00 C279.20,113.22 279.60,117.09 280.00,118.00 C280.50,119.14 281.00,119.73 281.50,120.00 C282.00,120.27 282.50,120.22 283.00,120.50 C283.50,120.78 284.00,122.09 284.50,123.00 C285.00,123.91 285.50,125.22 286.00,126.00 C286.67,127.04 287.33,127.91 288.00,128.50 C289.00,129.39 290.00,130.18 291.00,130.50 C292.33,130.92 293.67,131.17 295.00,131.30 C296.00,131.40 297.00,131.43 298.00,131.50 L365.40,131.50" fill="none" stroke="#aa2a42" stroke-width="1.05"/>
<path d="M318.00,155.30 L318.00,155.20 C319.67,155.07 321.33,155.00 323.00,154.80 C324.67,154.60 326.33,154.22 328.00,153.50 C329.00,153.07 330.00,151.89 331.00,150.50 C331.83,149.34 332.67,147.57 333.50,145.00 C334.00,143.46 334.50,140.75 335.00,138.00 C335.50,135.25 336.00,131.58 336.50,128.00 C336.93,124.90 337.37,120.48 337.80,118.00 C338.20,115.71 338.60,113.17 339.00,112.50 C339.50,111.66 340.00,111.00 340.50,111.00 C340.93,111.00 341.37,111.19 341.80,111.50 C342.20,111.78 342.60,114.17 343.00,116.00 C343.50,118.29 344.00,121.84 344.50,125.00 C345.00,128.16 345.50,131.67 346.00,135.00 C346.50,138.33 347.00,142.67 347.50,145.00 C348.17,148.11 348.83,150.94 349.50,152.00 C350.33,153.32 351.17,154.18 352.00,154.50 C353.00,154.89 354.00,154.97 355.00,155.20 L355.00,155.30 Z" fill="#9b9db7"/>
<path d="M318.00,155.30 L318.00,155.20 C319.67,155.07 321.33,155.00 323.00,154.80 C324.67,154.60 326.33,154.22 328.00,153.50 C329.00,153.07 330.00,151.89 331.00,150.50 C331.83,149.34 332.67,147.57 333.50,145.00 C334.00,143.46 334.50,140.75 335.00,138.00 C335.50,135.25 336.00,131.58 336.50,128.00 C336.93,124.90 337.37,120.48 337.80,118.00 C338.20,115.71 338.60,113.17 339.00,112.50 C339.50,111.66 340.00,111.00 340.50,111.00 C340.93,111.00 341.37,111.19 341.80,111.50 C342.20,111.78 342.60,114.17 343.00,116.00 C343.50,118.29 344.00,121.84 344.50,125.00 C345.00,128.16 345.50,131.67 346.00,135.00 C346.50,138.33 347.00,142.67 347.50,145.00 C348.17,148.11 348.83,150.94 349.50,152.00 C350.33,153.32 351.17,154.18 352.00,154.50 C353.00,154.89 354.00,154.97 355.00,155.20 L355.00,155.30 Z" fill="#8a7088" clip-path="url(#c4)"/>
<path d="M246.06,131.50 L269.00,131.50 L269.00,131.50 C269.67,131.47 270.33,131.47 271.00,131.40 C271.50,131.35 272.00,130.82 272.50,130.00 C272.83,129.45 273.17,127.54 273.50,125.00 C273.73,123.22 273.97,118.77 274.20,115.00 C274.47,110.69 274.73,104.23 275.00,100.00 C275.27,95.77 275.53,90.71 275.80,89.00 C275.97,87.93 276.13,86.80 276.30,86.80 C276.53,86.80 276.77,88.45 277.00,90.00 C277.27,91.77 277.53,97.02 277.80,100.00 C278.13,103.72 278.47,107.32 278.80,110.00 C279.20,113.22 279.60,117.09 280.00,118.00 C280.50,119.14 281.00,119.73 281.50,120.00 C282.00,120.27 282.50,120.22 283.00,120.50 C283.50,120.78 284.00,122.09 284.50,123.00 C285.00,123.91 285.50,125.22 286.00,126.00 C286.67,127.04 287.33,127.91 288.00,128.50 C289.00,129.39 290.00,130.18 291.00,130.50 C292.33,130.92 293.67,131.17 295.00,131.30 C296.00,131.40 297.00,131.43 298.00,131.50 L365.40,131.50" fill="none" stroke="#aa2a42" stroke-width="1.05" opacity="0.35"/>
<path d="M246.06,34.95 L365.40,34.95 L365.40,155.30 L246.06,155.30 Z" fill="none" stroke="#1e1e1e" stroke-width="1.3"/>
<path d="M246.06,155.30 L318.00,155.30 L318.00,155.20 C319.67,155.07 321.33,155.00 323.00,154.80 C324.67,154.60 326.33,154.22 328.00,153.50 C329.00,153.07 330.00,151.89 331.00,150.50 C331.83,149.34 332.67,147.57 333.50,145.00 C334.00,143.46 334.50,140.75 335.00,138.00 C335.50,135.25 336.00,131.58 336.50,128.00 C336.93,124.90 337.37,120.48 337.80,118.00 C338.20,115.71 338.60,113.17 339.00,112.50 C339.50,111.66 340.00,111.00 340.50,111.00 C340.93,111.00 341.37,111.19 341.80,111.50 C342.20,111.78 342.60,114.17 343.00,116.00 C343.50,118.29 344.00,121.84 344.50,125.00 C345.00,128.16 345.50,131.67 346.00,135.00 C346.50,138.33 347.00,142.67 347.50,145.00 C348.17,148.11 348.83,150.94 349.50,152.00 C350.33,153.32 351.17,154.18 352.00,154.50 C353.00,154.89 354.00,154.97 355.00,155.20 L365.40,155.30" fill="none" stroke="#46618e" stroke-width="1.05"/>
<text x="264.50" y="28.80" font-size="10.00" fill="#222" text-anchor="start" textLength="80.90" lengthAdjust="spacingAndGlyphs" stroke="#222" stroke-width="0.20" >anti-CD19 (fmc63)</text>
<path d="M253.31,155.30 v3.60 M273.26,155.30 v3.60 M292.06,155.30 v3.60 M325.56,155.30 v3.60 M353.76,155.30 v3.60 M271.26,155.30 v2.20 M275.14,155.30 v2.20 M273.06,155.30 v2.80 M273.45,155.30 v2.80 M269.27,155.30 v2.20 M277.02,155.30 v2.20 M272.86,155.30 v2.80 M273.64,155.30 v2.80 M267.27,155.30 v2.20 M278.90,155.30 v2.20 M272.66,155.30 v2.80 M273.82,155.30 v2.80 M265.28,155.30 v2.20 M280.78,155.30 v2.20 M272.46,155.30 v2.80 M274.01,155.30 v2.80 M263.28,155.30 v2.20 M282.66,155.30 v2.20 M272.26,155.30 v2.80 M274.20,155.30 v2.80 M261.29,155.30 v2.20 M284.54,155.30 v2.20 M272.06,155.30 v2.80 M274.39,155.30 v2.80 M259.30,155.30 v2.20 M286.42,155.30 v2.20 M271.86,155.30 v2.80 M274.58,155.30 v2.80 M257.30,155.30 v2.20 M288.30,155.30 v2.20 M271.66,155.30 v2.80 M274.76,155.30 v2.80 M255.31,155.30 v2.20 M290.18,155.30 v2.20 M271.46,155.30 v2.80 M274.95,155.30 v2.80 M302.14,155.30 v2.00 M308.04,155.30 v2.00 M312.23,155.30 v2.00 M315.48,155.30 v2.00 M318.13,155.30 v2.00 M320.37,155.30 v2.00 M322.31,155.30 v2.00 M324.03,155.30 v2.00 M334.05,155.30 v2.00 M339.01,155.30 v2.00 M342.54,155.30 v2.00 M345.27,155.30 v2.00 M347.50,155.30 v2.00 M349.39,155.30 v2.00 M351.03,155.30 v2.00 M352.47,155.30 v2.00 M362.25,155.30 v2.00 " stroke="#222" stroke-width="0.8" fill="none"/>
<text x="245.96" y="168.50" font-size="9.00" fill="#222" text-anchor="start" textLength="2.60" lengthAdjust="spacingAndGlyphs" stroke="#222" stroke-width="0.20" >-</text>
<text x="249.36" y="168.50" font-size="9.00" fill="#222" text-anchor="start" textLength="8.10" lengthAdjust="spacingAndGlyphs" stroke="#222" stroke-width="0.20" >10</text>
<text x="258.36" y="165.10" font-size="5.80" fill="#222" text-anchor="start" textLength="2.90" lengthAdjust="spacingAndGlyphs" stroke="#222" stroke-width="0.20" >3</text>
<text x="275.36" y="168.50" font-size="9.00" fill="#222" text-anchor="middle" textLength="4.60" lengthAdjust="spacingAndGlyphs" stroke="#222" stroke-width="0.20" >0</text>
<text x="286.41" y="168.50" font-size="9.00" fill="#222" text-anchor="start" textLength="8.10" lengthAdjust="spacingAndGlyphs" stroke="#222" stroke-width="0.20" >10</text>
<text x="295.41" y="165.10" font-size="5.80" fill="#222" text-anchor="start" textLength="2.90" lengthAdjust="spacingAndGlyphs" stroke="#222" stroke-width="0.20" >3</text>
<text x="319.91" y="168.50" font-size="9.00" fill="#222" text-anchor="start" textLength="8.10" lengthAdjust="spacingAndGlyphs" stroke="#222" stroke-width="0.20" >10</text>
<text x="328.91" y="165.10" font-size="5.80" fill="#222" text-anchor="start" textLength="2.90" lengthAdjust="spacingAndGlyphs" stroke="#222" stroke-width="0.20" >4</text>
<text x="348.11" y="168.50" font-size="9.00" fill="#222" text-anchor="start" textLength="8.10" lengthAdjust="spacingAndGlyphs" stroke="#222" stroke-width="0.20" >10</text>
<text x="357.11" y="165.10" font-size="5.80" fill="#222" text-anchor="start" textLength="2.90" lengthAdjust="spacingAndGlyphs" stroke="#222" stroke-width="0.20" >5</text>
<path d="M405.00,107.10 L405.00,107.20 C410.30,107.03 415.60,107.06 420.90,106.70 C422.50,106.59 424.10,105.87 425.70,104.90 C426.60,104.35 427.50,103.05 428.40,101.50 C429.10,100.29 429.80,98.46 430.50,96.00 C431.03,94.12 431.57,90.76 432.10,87.80 C432.70,84.47 433.30,80.39 433.90,76.90 C434.47,73.61 435.03,69.40 435.60,67.40 C436.17,65.40 436.73,63.00 437.30,63.00 C437.73,63.00 438.17,63.80 438.60,64.60 C439.17,65.65 439.73,68.75 440.30,71.50 C440.90,74.41 441.50,78.66 442.10,82.40 C442.67,85.93 443.23,90.18 443.80,93.30 C444.37,96.42 444.93,99.85 445.50,101.50 C446.17,103.44 446.83,105.11 447.50,105.60 C448.63,106.42 449.77,106.87 450.90,107.00 C451.93,107.11 452.97,107.13 454.00,107.20 L454.00,107.10 Z" fill="#c0d3a1"/>
<path d="M389.85,83.30 L405.00,83.30 L405.00,83.30 C409.40,83.23 413.80,83.24 418.20,83.10 C420.00,83.04 421.80,82.43 423.60,81.70 C424.73,81.24 425.87,80.24 427.00,79.00 C427.93,77.97 428.87,76.20 429.80,74.20 C430.47,72.77 431.13,70.98 431.80,68.70 C432.50,66.31 433.20,62.73 433.90,59.20 C434.47,56.34 435.03,52.53 435.60,49.60 C436.17,46.67 436.73,42.76 437.30,41.50 C437.60,40.83 437.90,40.10 438.20,40.10 C438.70,40.10 439.20,41.56 439.70,42.80 C440.17,43.96 440.63,45.98 441.10,48.30 C441.57,50.62 442.03,54.30 442.50,57.80 C442.93,61.05 443.37,65.75 443.80,68.70 C444.37,72.56 444.93,76.80 445.50,78.30 C446.40,80.68 447.30,82.44 448.20,82.70 C449.57,83.09 450.93,83.10 452.30,83.30 L509.30,83.30" fill="none" stroke="#6ca84f" stroke-width="1.05"/>
<path d="M389.85,107.10 L405.00,107.10 L405.00,107.20 C410.30,107.03 415.60,107.06 420.90,106.70 C422.50,106.59 424.10,105.87 425.70,104.90 C426.60,104.35 427.50,103.05 428.40,101.50 C429.10,100.29 429.80,98.46 430.50,96.00 C431.03,94.12 431.57,90.76 432.10,87.80 C432.70,84.47 433.30,80.39 433.90,76.90 C434.47,73.61 435.03,69.40 435.60,67.40 C436.17,65.40 436.73,63.00 437.30,63.00 C437.73,63.00 438.17,63.80 438.60,64.60 C439.17,65.65 439.73,68.75 440.30,71.50 C440.90,74.41 441.50,78.66 442.10,82.40 C442.67,85.93 443.23,90.18 443.80,93.30 C444.37,96.42 444.93,99.85 445.50,101.50 C446.17,103.44 446.83,105.11 447.50,105.60 C448.63,106.42 449.77,106.87 450.90,107.00 C451.93,107.11 452.97,107.13 454.00,107.20 L509.30,107.10" fill="none" stroke="#6ca84f" stroke-width="1.05"/>
<path d="M432.00,131.30 L432.00,131.40 C433.00,131.37 434.00,131.36 435.00,131.30 C436.40,131.22 437.80,130.85 439.20,130.30 C440.27,129.88 441.33,128.49 442.40,127.10 C443.43,125.75 444.47,124.04 445.50,121.30 C446.03,119.89 446.57,116.95 447.10,114.90 C447.67,112.72 448.23,109.86 448.80,108.60 C449.30,107.49 449.80,106.20 450.30,106.20 C450.83,106.20 451.37,107.06 451.90,108.00 C452.40,108.88 452.90,111.64 453.40,113.90 C453.80,115.71 454.20,118.78 454.60,120.20 C455.13,122.10 455.67,123.74 456.20,124.40 C456.73,125.06 457.27,125.70 457.80,125.70 C458.50,125.70 459.20,124.39 459.90,123.40 C460.60,122.41 461.30,121.20 462.00,119.20 C462.53,117.68 463.07,114.62 463.60,111.70 C464.13,108.78 464.67,104.44 465.20,101.20 C465.70,98.16 466.20,94.19 466.70,92.70 C467.23,91.12 467.77,89.50 468.30,89.50 C468.77,89.50 469.23,90.10 469.70,90.10 C470.13,90.10 470.57,88.95 471.00,88.50 C471.33,88.16 471.67,87.60 472.00,87.60 C472.37,87.60 472.73,90.08 473.10,91.60 C473.47,93.12 473.83,96.03 474.20,96.90 C474.53,97.69 474.87,97.73 475.20,98.50 C475.57,99.35 475.93,101.40 476.30,103.30 C476.63,105.02 476.97,107.55 477.30,109.60 C477.83,112.88 478.37,116.66 478.90,119.20 C479.43,121.74 479.97,124.06 480.50,125.50 C481.20,127.38 481.90,129.12 482.60,129.70 C483.67,130.59 484.73,131.24 485.80,131.30 C486.87,131.36 487.93,131.37 489.00,131.40 L489.00,131.30 Z" fill="#cb8884"/>
<path d="M432.00,131.30 L432.00,131.40 C433.00,131.37 434.00,131.36 435.00,131.30 C436.40,131.22 437.80,130.85 439.20,130.30 C440.27,129.88 441.33,128.49 442.40,127.10 C443.43,125.75 444.47,124.04 445.50,121.30 C446.03,119.89 446.57,116.95 447.10,114.90 C447.67,112.72 448.23,109.86 448.80,108.60 C449.30,107.49 449.80,106.20 450.30,106.20 C450.83,106.20 451.37,107.06 451.90,108.00 C452.40,108.88 452.90,111.64 453.40,113.90 C453.80,115.71 454.20,118.78 454.60,120.20 C455.13,122.10 455.67,123.74 456.20,124.40 C456.73,125.06 457.27,125.70 457.80,125.70 C458.50,125.70 459.20,124.39 459.90,123.40 C460.60,122.41 461.30,121.20 462.00,119.20 C462.53,117.68 463.07,114.62 463.60,111.70 C464.13,108.78 464.67,104.44 465.20,101.20 C465.70,98.16 466.20,94.19 466.70,92.70 C467.23,91.12 467.77,89.50 468.30,89.50 C468.77,89.50 469.23,90.10 469.70,90.10 C470.13,90.10 470.57,88.95 471.00,88.50 C471.33,88.16 471.67,87.60 472.00,87.60 C472.37,87.60 472.73,90.08 473.10,91.60 C473.47,93.12 473.83,96.03 474.20,96.90 C474.53,97.69 474.87,97.73 475.20,98.50 C475.57,99.35 475.93,101.40 476.30,103.30 C476.63,105.02 476.97,107.55 477.30,109.60 C477.83,112.88 478.37,116.66 478.90,119.20 C479.43,121.74 479.97,124.06 480.50,125.50 C481.20,127.38 481.90,129.12 482.60,129.70 C483.67,130.59 484.73,131.24 485.80,131.30 C486.87,131.36 487.93,131.37 489.00,131.40 L489.00,131.30 Z" fill="#ab7866" clip-path="url(#c5)"/>
<path d="M389.85,107.10 L405.00,107.10 L405.00,107.20 C410.30,107.03 415.60,107.06 420.90,106.70 C422.50,106.59 424.10,105.87 425.70,104.90 C426.60,104.35 427.50,103.05 428.40,101.50 C429.10,100.29 429.80,98.46 430.50,96.00 C431.03,94.12 431.57,90.76 432.10,87.80 C432.70,84.47 433.30,80.39 433.90,76.90 C434.47,73.61 435.03,69.40 435.60,67.40 C436.17,65.40 436.73,63.00 437.30,63.00 C437.73,63.00 438.17,63.80 438.60,64.60 C439.17,65.65 439.73,68.75 440.30,71.50 C440.90,74.41 441.50,78.66 442.10,82.40 C442.67,85.93 443.23,90.18 443.80,93.30 C444.37,96.42 444.93,99.85 445.50,101.50 C446.17,103.44 446.83,105.11 447.50,105.60 C448.63,106.42 449.77,106.87 450.90,107.00 C451.93,107.11 452.97,107.13 454.00,107.20 L509.30,107.10" fill="none" stroke="#6ca84f" stroke-width="1.05" opacity="0.35"/>
<path d="M389.85,131.30 L432.00,131.30 L432.00,131.40 C433.00,131.37 434.00,131.36 435.00,131.30 C436.40,131.22 437.80,130.85 439.20,130.30 C440.27,129.88 441.33,128.49 442.40,127.10 C443.43,125.75 444.47,124.04 445.50,121.30 C446.03,119.89 446.57,116.95 447.10,114.90 C447.67,112.72 448.23,109.86 448.80,108.60 C449.30,107.49 449.80,106.20 450.30,106.20 C450.83,106.20 451.37,107.06 451.90,108.00 C452.40,108.88 452.90,111.64 453.40,113.90 C453.80,115.71 454.20,118.78 454.60,120.20 C455.13,122.10 455.67,123.74 456.20,124.40 C456.73,125.06 457.27,125.70 457.80,125.70 C458.50,125.70 459.20,124.39 459.90,123.40 C460.60,122.41 461.30,121.20 462.00,119.20 C462.53,117.68 463.07,114.62 463.60,111.70 C464.13,108.78 464.67,104.44 465.20,101.20 C465.70,98.16 466.20,94.19 466.70,92.70 C467.23,91.12 467.77,89.50 468.30,89.50 C468.77,89.50 469.23,90.10 469.70,90.10 C470.13,90.10 470.57,88.95 471.00,88.50 C471.33,88.16 471.67,87.60 472.00,87.60 C472.37,87.60 472.73,90.08 473.10,91.60 C473.47,93.12 473.83,96.03 474.20,96.90 C474.53,97.69 474.87,97.73 475.20,98.50 C475.57,99.35 475.93,101.40 476.30,103.30 C476.63,105.02 476.97,107.55 477.30,109.60 C477.83,112.88 478.37,116.66 478.90,119.20 C479.43,121.74 479.97,124.06 480.50,125.50 C481.20,127.38 481.90,129.12 482.60,129.70 C483.67,130.59 484.73,131.24 485.80,131.30 C486.87,131.36 487.93,131.37 489.00,131.40 L509.30,131.30" fill="none" stroke="#aa2a42" stroke-width="1.05"/>
<path d="M426.00,155.20 L426.00,155.20 C427.67,155.13 429.33,155.11 431.00,155.00 C432.83,154.88 434.67,154.48 436.50,153.90 C437.73,153.51 438.97,152.55 440.20,151.50 C441.30,150.57 442.40,149.02 443.50,147.50 C444.53,146.07 445.57,145.00 446.60,142.50 C447.13,141.21 447.67,138.08 448.20,136.00 C448.73,133.92 449.27,131.85 449.80,130.00 C450.37,128.03 450.93,126.45 451.50,124.50 C452.00,122.78 452.50,120.64 453.00,119.00 C453.57,117.15 454.13,115.37 454.70,114.00 C455.10,113.03 455.50,112.00 455.90,111.50 C456.23,111.09 456.57,110.60 456.90,110.60 C457.20,110.60 457.50,112.80 457.80,112.80 C457.90,112.80 458.00,112.50 458.10,112.50 C458.53,112.50 458.97,112.80 459.40,113.10 C460.02,113.53 460.63,114.96 461.25,116.25 C461.87,117.54 462.48,119.27 463.10,121.25 C463.73,123.28 464.37,126.48 465.00,128.75 C465.63,131.02 466.27,132.89 466.90,135.00 C467.52,137.06 468.13,139.68 468.75,141.25 C469.58,143.37 470.42,144.99 471.25,146.25 C472.30,147.83 473.35,148.86 474.40,150.00 C475.43,151.12 476.47,152.46 477.50,153.10 C478.75,153.87 480.00,154.51 481.25,154.75 C482.50,154.99 483.75,155.05 485.00,155.20 L485.00,155.20 Z" fill="#9b9db7"/>
<path d="M426.00,155.20 L426.00,155.20 C427.67,155.13 429.33,155.11 431.00,155.00 C432.83,154.88 434.67,154.48 436.50,153.90 C437.73,153.51 438.97,152.55 440.20,151.50 C441.30,150.57 442.40,149.02 443.50,147.50 C444.53,146.07 445.57,145.00 446.60,142.50 C447.13,141.21 447.67,138.08 448.20,136.00 C448.73,133.92 449.27,131.85 449.80,130.00 C450.37,128.03 450.93,126.45 451.50,124.50 C452.00,122.78 452.50,120.64 453.00,119.00 C453.57,117.15 454.13,115.37 454.70,114.00 C455.10,113.03 455.50,112.00 455.90,111.50 C456.23,111.09 456.57,110.60 456.90,110.60 C457.20,110.60 457.50,112.80 457.80,112.80 C457.90,112.80 458.00,112.50 458.10,112.50 C458.53,112.50 458.97,112.80 459.40,113.10 C460.02,113.53 460.63,114.96 461.25,116.25 C461.87,117.54 462.48,119.27 463.10,121.25 C463.73,123.28 464.37,126.48 465.00,128.75 C465.63,131.02 466.27,132.89 466.90,135.00 C467.52,137.06 468.13,139.68 468.75,141.25 C469.58,143.37 470.42,144.99 471.25,146.25 C472.30,147.83 473.35,148.86 474.40,150.00 C475.43,151.12 476.47,152.46 477.50,153.10 C478.75,153.87 480.00,154.51 481.25,154.75 C482.50,154.99 483.75,155.05 485.00,155.20 L485.00,155.20 Z" fill="#8a7088" clip-path="url(#c6)"/>
<path d="M389.85,131.30 L432.00,131.30 L432.00,131.40 C433.00,131.37 434.00,131.36 435.00,131.30 C436.40,131.22 437.80,130.85 439.20,130.30 C440.27,129.88 441.33,128.49 442.40,127.10 C443.43,125.75 444.47,124.04 445.50,121.30 C446.03,119.89 446.57,116.95 447.10,114.90 C447.67,112.72 448.23,109.86 448.80,108.60 C449.30,107.49 449.80,106.20 450.30,106.20 C450.83,106.20 451.37,107.06 451.90,108.00 C452.40,108.88 452.90,111.64 453.40,113.90 C453.80,115.71 454.20,118.78 454.60,120.20 C455.13,122.10 455.67,123.74 456.20,124.40 C456.73,125.06 457.27,125.70 457.80,125.70 C458.50,125.70 459.20,124.39 459.90,123.40 C460.60,122.41 461.30,121.20 462.00,119.20 C462.53,117.68 463.07,114.62 463.60,111.70 C464.13,108.78 464.67,104.44 465.20,101.20 C465.70,98.16 466.20,94.19 466.70,92.70 C467.23,91.12 467.77,89.50 468.30,89.50 C468.77,89.50 469.23,90.10 469.70,90.10 C470.13,90.10 470.57,88.95 471.00,88.50 C471.33,88.16 471.67,87.60 472.00,87.60 C472.37,87.60 472.73,90.08 473.10,91.60 C473.47,93.12 473.83,96.03 474.20,96.90 C474.53,97.69 474.87,97.73 475.20,98.50 C475.57,99.35 475.93,101.40 476.30,103.30 C476.63,105.02 476.97,107.55 477.30,109.60 C477.83,112.88 478.37,116.66 478.90,119.20 C479.43,121.74 479.97,124.06 480.50,125.50 C481.20,127.38 481.90,129.12 482.60,129.70 C483.67,130.59 484.73,131.24 485.80,131.30 C486.87,131.36 487.93,131.37 489.00,131.40 L509.30,131.30" fill="none" stroke="#aa2a42" stroke-width="1.05" opacity="0.35"/>
<path d="M389.85,34.85 L509.30,34.85 L509.30,155.20 L389.85,155.20 Z" fill="none" stroke="#1e1e1e" stroke-width="1.3"/>
<path d="M389.85,155.20 L426.00,155.20 L426.00,155.20 C427.67,155.13 429.33,155.11 431.00,155.00 C432.83,154.88 434.67,154.48 436.50,153.90 C437.73,153.51 438.97,152.55 440.20,151.50 C441.30,150.57 442.40,149.02 443.50,147.50 C444.53,146.07 445.57,145.00 446.60,142.50 C447.13,141.21 447.67,138.08 448.20,136.00 C448.73,133.92 449.27,131.85 449.80,130.00 C450.37,128.03 450.93,126.45 451.50,124.50 C452.00,122.78 452.50,120.64 453.00,119.00 C453.57,117.15 454.13,115.37 454.70,114.00 C455.10,113.03 455.50,112.00 455.90,111.50 C456.23,111.09 456.57,110.60 456.90,110.60 C457.20,110.60 457.50,112.80 457.80,112.80 C457.90,112.80 458.00,112.50 458.10,112.50 C458.53,112.50 458.97,112.80 459.40,113.10 C460.02,113.53 460.63,114.96 461.25,116.25 C461.87,117.54 462.48,119.27 463.10,121.25 C463.73,123.28 464.37,126.48 465.00,128.75 C465.63,131.02 466.27,132.89 466.90,135.00 C467.52,137.06 468.13,139.68 468.75,141.25 C469.58,143.37 470.42,144.99 471.25,146.25 C472.30,147.83 473.35,148.86 474.40,150.00 C475.43,151.12 476.47,152.46 477.50,153.10 C478.75,153.87 480.00,154.51 481.25,154.75 C482.50,154.99 483.75,155.05 485.00,155.20 L509.30,155.20" fill="none" stroke="#46618e" stroke-width="1.05"/>
<text x="414.50" y="28.80" font-size="10.00" fill="#222" text-anchor="start" textLength="69.80" lengthAdjust="spacingAndGlyphs" stroke="#222" stroke-width="0.20" >anti-mouse Fab</text>
<path d="M389.85,155.20 v3.60 M396.43,155.20 v2.00 M400.28,155.20 v2.00 M403.01,155.20 v2.00 M405.13,155.20 v2.00 M406.86,155.20 v2.00 M408.32,155.20 v2.00 M409.59,155.20 v2.00 M410.71,155.20 v2.00 M411.71,155.20 v3.60 M418.29,155.20 v2.00 M422.14,155.20 v2.00 M424.87,155.20 v2.00 M426.99,155.20 v2.00 M428.72,155.20 v2.00 M430.18,155.20 v2.00 M431.45,155.20 v2.00 M432.57,155.20 v2.00 M433.57,155.20 v3.60 M440.15,155.20 v2.00 M444.00,155.20 v2.00 M446.73,155.20 v2.00 M448.85,155.20 v2.00 M450.58,155.20 v2.00 M452.04,155.20 v2.00 M453.31,155.20 v2.00 M454.43,155.20 v2.00 M455.43,155.20 v3.60 M462.01,155.20 v2.00 M465.86,155.20 v2.00 M468.59,155.20 v2.00 M470.71,155.20 v2.00 M472.44,155.20 v2.00 M473.90,155.20 v2.00 M475.17,155.20 v2.00 M476.29,155.20 v2.00 M477.29,155.20 v3.60 M483.87,155.20 v2.00 M487.72,155.20 v2.00 M490.45,155.20 v2.00 M492.57,155.20 v2.00 M494.30,155.20 v2.00 M495.76,155.20 v2.00 M497.03,155.20 v2.00 M498.15,155.20 v2.00 M499.15,155.20 v3.60 M505.73,155.20 v2.00 " stroke="#222" stroke-width="0.8" fill="none"/>
<text x="384.20" y="168.40" font-size="9.00" fill="#222" text-anchor="start" textLength="8.10" lengthAdjust="spacingAndGlyphs" stroke="#222" stroke-width="0.20" >10</text>
<text x="393.20" y="165.00" font-size="5.80" fill="#222" text-anchor="start" textLength="2.90" lengthAdjust="spacingAndGlyphs" stroke="#222" stroke-width="0.20" >1</text>
<text x="406.06" y="168.40" font-size="9.00" fill="#222" text-anchor="start" textLength="8.10" lengthAdjust="spacingAndGlyphs" stroke="#222" stroke-width="0.20" >10</text>
<text x="415.06" y="165.00" font-size="5.80" fill="#222" text-anchor="start" textLength="2.90" lengthAdjust="spacingAndGlyphs" stroke="#222" stroke-width="0.20" >2</text>
<text x="427.92" y="168.40" font-size="9.00" fill="#222" text-anchor="start" textLength="8.10" lengthAdjust="spacingAndGlyphs" stroke="#222" stroke-width="0.20" >10</text>
<text x="436.92" y="165.00" font-size="5.80" fill="#222" text-anchor="start" textLength="2.90" lengthAdjust="spacingAndGlyphs" stroke="#222" stroke-width="0.20" >3</text>
<text x="449.78" y="168.40" font-size="9.00" fill="#222" text-anchor="start" textLength="8.10" lengthAdjust="spacingAndGlyphs" stroke="#222" stroke-width="0.20" >10</text>
<text x="458.78" y="165.00" font-size="5.80" fill="#222" text-anchor="start" textLength="2.90" lengthAdjust="spacingAndGlyphs" stroke="#222" stroke-width="0.20" >4</text>
<text x="471.64" y="168.40" font-size="9.00" fill="#222" text-anchor="start" textLength="8.10" lengthAdjust="spacingAndGlyphs" stroke="#222" stroke-width="0.20" >10</text>
<text x="480.64" y="165.00" font-size="5.80" fill="#222" text-anchor="start" textLength="2.90" lengthAdjust="spacingAndGlyphs" stroke="#222" stroke-width="0.20" >5</text>
<text x="493.50" y="168.40" font-size="9.00" fill="#222" text-anchor="start" textLength="8.10" lengthAdjust="spacingAndGlyphs" stroke="#222" stroke-width="0.20" >10</text>
<text x="502.50" y="165.00" font-size="5.80" fill="#222" text-anchor="start" textLength="2.90" lengthAdjust="spacingAndGlyphs" stroke="#222" stroke-width="0.20" >6</text>
<text x="103.50" y="87.20" font-size="10.00" fill="#6ca84f" text-anchor="end" textLength="14.60" lengthAdjust="spacingAndGlyphs" stroke="#6ca84f" stroke-width="0.20" >J76</text>
<text x="102.40" y="111.90" font-size="10.00" fill="#6ca84f" text-anchor="end" textLength="23.20" lengthAdjust="spacingAndGlyphs" stroke="#6ca84f" stroke-width="0.20" >BL-41</text>
<text x="102.40" y="134.70" font-size="10.00" fill="#aa2a42" text-anchor="end" textLength="69.20" lengthAdjust="spacingAndGlyphs" stroke="#aa2a42" stroke-width="0.20" >CD19CAR BL-41</text>
<text x="102.40" y="158.70" font-size="10.00" fill="#46618e" text-anchor="end" textLength="69.20" lengthAdjust="spacingAndGlyphs" stroke="#46618e" stroke-width="0.20" >CD37CAR BL-41</text>
<path d="M140.00,276.70 L140.00,276.80 C144.10,276.70 148.20,276.64 152.30,276.50 C154.20,276.43 156.10,276.33 158.00,276.20 C159.87,276.07 161.73,275.92 163.60,275.60 C165.43,275.28 167.27,274.36 169.10,273.20 C170.93,272.04 172.77,269.80 174.60,266.80 C175.80,264.84 177.00,261.47 178.20,257.70 C179.10,254.87 180.00,250.11 180.90,246.80 C181.80,243.49 182.70,239.59 183.60,237.70 C184.40,236.02 185.20,234.47 186.00,234.00 C186.73,233.57 187.47,233.20 188.20,233.20 C188.80,233.20 189.40,234.08 190.00,235.00 C190.33,235.51 190.67,236.62 191.00,237.70 C191.57,239.54 192.13,242.37 192.70,245.00 C193.30,247.78 193.90,251.48 194.50,254.10 C195.13,256.87 195.77,259.25 196.40,261.40 C197.30,264.45 198.20,267.88 199.10,269.50 C200.33,271.72 201.57,273.22 202.80,274.10 C204.30,275.17 205.80,276.04 207.30,276.30 C208.87,276.58 210.43,276.63 212.00,276.80 L212.00,276.70 Z" fill="#c0d3a1"/>
<path d="M108.00,253.30 L131.50,253.30 L131.50,253.30 C132.20,253.20 132.90,253.21 133.60,253.00 C133.93,252.90 134.27,251.72 134.60,250.00 C134.83,248.80 135.07,243.86 135.30,240.00 C135.60,235.03 135.90,226.92 136.20,222.00 C136.50,217.08 136.80,209.50 137.10,209.50 C137.37,209.50 137.63,215.12 137.90,219.00 C138.13,222.40 138.37,228.50 138.60,232.00 C138.87,236.00 139.13,239.69 139.40,242.00 C139.73,244.88 140.07,247.27 140.40,248.50 C140.87,250.23 141.33,251.48 141.80,252.00 C142.37,252.64 142.93,253.15 143.50,253.20 C144.33,253.27 145.17,253.27 146.00,253.30 L227.45,253.30" fill="none" stroke="#6ca84f" stroke-width="1.05"/>
<path d="M108.00,276.70 L140.00,276.70 L140.00,276.80 C144.10,276.70 148.20,276.64 152.30,276.50 C154.20,276.43 156.10,276.33 158.00,276.20 C159.87,276.07 161.73,275.92 163.60,275.60 C165.43,275.28 167.27,274.36 169.10,273.20 C170.93,272.04 172.77,269.80 174.60,266.80 C175.80,264.84 177.00,261.47 178.20,257.70 C179.10,254.87 180.00,250.11 180.90,246.80 C181.80,243.49 182.70,239.59 183.60,237.70 C184.40,236.02 185.20,234.47 186.00,234.00 C186.73,233.57 187.47,233.20 188.20,233.20 C188.80,233.20 189.40,234.08 190.00,235.00 C190.33,235.51 190.67,236.62 191.00,237.70 C191.57,239.54 192.13,242.37 192.70,245.00 C193.30,247.78 193.90,251.48 194.50,254.10 C195.13,256.87 195.77,259.25 196.40,261.40 C197.30,264.45 198.20,267.88 199.10,269.50 C200.33,271.72 201.57,273.22 202.80,274.10 C204.30,275.17 205.80,276.04 207.30,276.30 C208.87,276.58 210.43,276.63 212.00,276.80 L227.45,276.70" fill="none" stroke="#6ca84f" stroke-width="1.05"/>
<path d="M133.00,300.60 L133.00,300.80 C133.77,300.80 134.53,300.80 135.30,300.80 C136.20,300.80 137.10,300.02 138.00,299.60 C139.10,299.09 140.20,298.28 141.30,298.00 C142.67,297.65 144.03,297.55 145.40,297.30 C147.20,296.97 149.00,296.60 150.80,296.20 C152.57,295.81 154.33,295.25 156.10,294.90 C157.90,294.54 159.70,294.52 161.50,294.00 C162.83,293.61 164.17,291.65 165.50,290.50 C167.30,288.95 169.10,287.54 170.90,285.90 C172.13,284.77 173.37,283.77 174.60,282.30 C175.80,280.87 177.00,279.04 178.20,276.80 C179.10,275.12 180.00,272.90 180.90,270.50 C181.50,268.90 182.10,266.46 182.70,265.00 C183.63,262.73 184.57,260.71 185.50,259.50 C186.10,258.72 186.70,257.70 187.30,257.70 C188.20,257.70 189.10,259.45 190.00,260.50 C190.90,261.55 191.80,262.30 192.70,264.10 C193.30,265.30 193.90,268.05 194.50,270.50 C195.13,273.08 195.77,276.84 196.40,279.60 C197.00,282.21 197.60,284.59 198.20,286.80 C199.10,290.11 200.00,294.48 200.90,295.90 C202.10,297.80 203.30,299.05 204.50,299.50 C206.00,300.06 207.50,300.42 209.00,300.50 C210.00,300.56 211.00,300.57 212.00,300.60 L212.00,300.60 Z" fill="#cb8884"/>
<path d="M133.00,300.60 L133.00,300.80 C133.77,300.80 134.53,300.80 135.30,300.80 C136.20,300.80 137.10,300.02 138.00,299.60 C139.10,299.09 140.20,298.28 141.30,298.00 C142.67,297.65 144.03,297.55 145.40,297.30 C147.20,296.97 149.00,296.60 150.80,296.20 C152.57,295.81 154.33,295.25 156.10,294.90 C157.90,294.54 159.70,294.52 161.50,294.00 C162.83,293.61 164.17,291.65 165.50,290.50 C167.30,288.95 169.10,287.54 170.90,285.90 C172.13,284.77 173.37,283.77 174.60,282.30 C175.80,280.87 177.00,279.04 178.20,276.80 C179.10,275.12 180.00,272.90 180.90,270.50 C181.50,268.90 182.10,266.46 182.70,265.00 C183.63,262.73 184.57,260.71 185.50,259.50 C186.10,258.72 186.70,257.70 187.30,257.70 C188.20,257.70 189.10,259.45 190.00,260.50 C190.90,261.55 191.80,262.30 192.70,264.10 C193.30,265.30 193.90,268.05 194.50,270.50 C195.13,273.08 195.77,276.84 196.40,279.60 C197.00,282.21 197.60,284.59 198.20,286.80 C199.10,290.11 200.00,294.48 200.90,295.90 C202.10,297.80 203.30,299.05 204.50,299.50 C206.00,300.06 207.50,300.42 209.00,300.50 C210.00,300.56 211.00,300.57 212.00,300.60 L212.00,300.60 Z" fill="#ab7866" clip-path="url(#c7)"/>
<path d="M108.00,276.70 L140.00,276.70 L140.00,276.80 C144.10,276.70 148.20,276.64 152.30,276.50 C154.20,276.43 156.10,276.33 158.00,276.20 C159.87,276.07 161.73,275.92 163.60,275.60 C165.43,275.28 167.27,274.36 169.10,273.20 C170.93,272.04 172.77,269.80 174.60,266.80 C175.80,264.84 177.00,261.47 178.20,257.70 C179.10,254.87 180.00,250.11 180.90,246.80 C181.80,243.49 182.70,239.59 183.60,237.70 C184.40,236.02 185.20,234.47 186.00,234.00 C186.73,233.57 187.47,233.20 188.20,233.20 C188.80,233.20 189.40,234.08 190.00,235.00 C190.33,235.51 190.67,236.62 191.00,237.70 C191.57,239.54 192.13,242.37 192.70,245.00 C193.30,247.78 193.90,251.48 194.50,254.10 C195.13,256.87 195.77,259.25 196.40,261.40 C197.30,264.45 198.20,267.88 199.10,269.50 C200.33,271.72 201.57,273.22 202.80,274.10 C204.30,275.17 205.80,276.04 207.30,276.30 C208.87,276.58 210.43,276.63 212.00,276.80 L227.45,276.70" fill="none" stroke="#6ca84f" stroke-width="1.05" opacity="0.35"/>
<path d="M108.00,300.60 L133.00,300.60 L133.00,300.80 C133.77,300.80 134.53,300.80 135.30,300.80 C136.20,300.80 137.10,300.02 138.00,299.60 C139.10,299.09 140.20,298.28 141.30,298.00 C142.67,297.65 144.03,297.55 145.40,297.30 C147.20,296.97 149.00,296.60 150.80,296.20 C152.57,295.81 154.33,295.25 156.10,294.90 C157.90,294.54 159.70,294.52 161.50,294.00 C162.83,293.61 164.17,291.65 165.50,290.50 C167.30,288.95 169.10,287.54 170.90,285.90 C172.13,284.77 173.37,283.77 174.60,282.30 C175.80,280.87 177.00,279.04 178.20,276.80 C179.10,275.12 180.00,272.90 180.90,270.50 C181.50,268.90 182.10,266.46 182.70,265.00 C183.63,262.73 184.57,260.71 185.50,259.50 C186.10,258.72 186.70,257.70 187.30,257.70 C188.20,257.70 189.10,259.45 190.00,260.50 C190.90,261.55 191.80,262.30 192.70,264.10 C193.30,265.30 193.90,268.05 194.50,270.50 C195.13,273.08 195.77,276.84 196.40,279.60 C197.00,282.21 197.60,284.59 198.20,286.80 C199.10,290.11 200.00,294.48 200.90,295.90 C202.10,297.80 203.30,299.05 204.50,299.50 C206.00,300.06 207.50,300.42 209.00,300.50 C210.00,300.56 211.00,300.57 212.00,300.60 L227.45,300.60" fill="none" stroke="#aa2a42" stroke-width="1.05"/>
<path d="M134.00,324.50 L134.00,324.50 C134.67,324.47 135.33,324.45 136.00,324.40 C137.33,324.30 138.67,323.69 140.00,323.60 C143.60,323.35 147.20,323.41 150.80,323.20 C154.37,322.99 157.93,322.29 161.50,321.80 C162.67,321.64 163.83,321.57 165.00,321.30 C166.37,320.98 167.73,319.51 169.10,318.50 C170.73,317.29 172.37,315.94 174.00,314.50 C175.40,313.27 176.80,312.00 178.20,310.50 C179.70,308.90 181.20,307.57 182.70,305.00 C183.63,303.40 184.57,300.32 185.50,297.70 C186.10,296.02 186.70,293.77 187.30,292.30 C188.20,290.09 189.10,288.35 190.00,286.80 C190.80,285.42 191.60,283.20 192.40,283.20 C193.10,283.20 193.80,286.99 194.50,287.70 C195.43,288.65 196.37,288.34 197.30,289.50 C197.90,290.25 198.50,297.61 199.10,301.40 C199.70,305.19 200.30,309.65 200.90,312.30 C201.80,316.27 202.70,320.09 203.60,321.40 C204.53,322.76 205.47,323.71 206.40,324.00 C207.27,324.27 208.13,324.33 209.00,324.50 L209.00,324.50 Z" fill="#9b9db7"/>
<path d="M134.00,324.50 L134.00,324.50 C134.67,324.47 135.33,324.45 136.00,324.40 C137.33,324.30 138.67,323.69 140.00,323.60 C143.60,323.35 147.20,323.41 150.80,323.20 C154.37,322.99 157.93,322.29 161.50,321.80 C162.67,321.64 163.83,321.57 165.00,321.30 C166.37,320.98 167.73,319.51 169.10,318.50 C170.73,317.29 172.37,315.94 174.00,314.50 C175.40,313.27 176.80,312.00 178.20,310.50 C179.70,308.90 181.20,307.57 182.70,305.00 C183.63,303.40 184.57,300.32 185.50,297.70 C186.10,296.02 186.70,293.77 187.30,292.30 C188.20,290.09 189.10,288.35 190.00,286.80 C190.80,285.42 191.60,283.20 192.40,283.20 C193.10,283.20 193.80,286.99 194.50,287.70 C195.43,288.65 196.37,288.34 197.30,289.50 C197.90,290.25 198.50,297.61 199.10,301.40 C199.70,305.19 200.30,309.65 200.90,312.30 C201.80,316.27 202.70,320.09 203.60,321.40 C204.53,322.76 205.47,323.71 206.40,324.00 C207.27,324.27 208.13,324.33 209.00,324.50 L209.00,324.50 Z" fill="#8a7088" clip-path="url(#c8)"/>
<path d="M108.00,300.60 L133.00,300.60 L133.00,300.80 C133.77,300.80 134.53,300.80 135.30,300.80 C136.20,300.80 137.10,300.02 138.00,299.60 C139.10,299.09 140.20,298.28 141.30,298.00 C142.67,297.65 144.03,297.55 145.40,297.30 C147.20,296.97 149.00,296.60 150.80,296.20 C152.57,295.81 154.33,295.25 156.10,294.90 C157.90,294.54 159.70,294.52 161.50,294.00 C162.83,293.61 164.17,291.65 165.50,290.50 C167.30,288.95 169.10,287.54 170.90,285.90 C172.13,284.77 173.37,283.77 174.60,282.30 C175.80,280.87 177.00,279.04 178.20,276.80 C179.10,275.12 180.00,272.90 180.90,270.50 C181.50,268.90 182.10,266.46 182.70,265.00 C183.63,262.73 184.57,260.71 185.50,259.50 C186.10,258.72 186.70,257.70 187.30,257.70 C188.20,257.70 189.10,259.45 190.00,260.50 C190.90,261.55 191.80,262.30 192.70,264.10 C193.30,265.30 193.90,268.05 194.50,270.50 C195.13,273.08 195.77,276.84 196.40,279.60 C197.00,282.21 197.60,284.59 198.20,286.80 C199.10,290.11 200.00,294.48 200.90,295.90 C202.10,297.80 203.30,299.05 204.50,299.50 C206.00,300.06 207.50,300.42 209.00,300.50 C210.00,300.56 211.00,300.57 212.00,300.60 L227.45,300.60" fill="none" stroke="#aa2a42" stroke-width="1.05" opacity="0.35"/>
<path d="M108.00,204.20 L227.45,204.20 L227.45,324.50 L108.00,324.50 Z" fill="none" stroke="#1e1e1e" stroke-width="1.3"/>
<path d="M108.00,324.50 L134.00,324.50 L134.00,324.50 C134.67,324.47 135.33,324.45 136.00,324.40 C137.33,324.30 138.67,323.69 140.00,323.60 C143.60,323.35 147.20,323.41 150.80,323.20 C154.37,322.99 157.93,322.29 161.50,321.80 C162.67,321.64 163.83,321.57 165.00,321.30 C166.37,320.98 167.73,319.51 169.10,318.50 C170.73,317.29 172.37,315.94 174.00,314.50 C175.40,313.27 176.80,312.00 178.20,310.50 C179.70,308.90 181.20,307.57 182.70,305.00 C183.63,303.40 184.57,300.32 185.50,297.70 C186.10,296.02 186.70,293.77 187.30,292.30 C188.20,290.09 189.10,288.35 190.00,286.80 C190.80,285.42 191.60,283.20 192.40,283.20 C193.10,283.20 193.80,286.99 194.50,287.70 C195.43,288.65 196.37,288.34 197.30,289.50 C197.90,290.25 198.50,297.61 199.10,301.40 C199.70,305.19 200.30,309.65 200.90,312.30 C201.80,316.27 202.70,320.09 203.60,321.40 C204.53,322.76 205.47,323.71 206.40,324.00 C207.27,324.27 208.13,324.33 209.00,324.50 L227.45,324.50" fill="none" stroke="#46618e" stroke-width="1.05"/>
<text x="123.80" y="198.40" font-size="10.00" fill="#222" text-anchor="start" textLength="87.00" lengthAdjust="spacingAndGlyphs" stroke="#222" stroke-width="0.20" >anti-CD37 (M-B371)</text>
<path d="M115.25,324.50 v3.60 M135.20,324.50 v3.60 M154.00,324.50 v3.60 M187.50,324.50 v3.60 M215.70,324.50 v3.60 M133.20,324.50 v2.20 M137.08,324.50 v2.20 M135.00,324.50 v2.80 M135.39,324.50 v2.80 M131.21,324.50 v2.20 M138.96,324.50 v2.20 M134.80,324.50 v2.80 M135.58,324.50 v2.80 M129.22,324.50 v2.20 M140.84,324.50 v2.20 M134.60,324.50 v2.80 M135.76,324.50 v2.80 M127.22,324.50 v2.20 M142.72,324.50 v2.20 M134.40,324.50 v2.80 M135.95,324.50 v2.80 M125.22,324.50 v2.20 M144.60,324.50 v2.20 M134.20,324.50 v2.80 M136.14,324.50 v2.80 M123.23,324.50 v2.20 M146.48,324.50 v2.20 M134.00,324.50 v2.80 M136.33,324.50 v2.80 M121.23,324.50 v2.20 M148.36,324.50 v2.20 M133.80,324.50 v2.80 M136.52,324.50 v2.80 M119.24,324.50 v2.20 M150.24,324.50 v2.20 M133.60,324.50 v2.80 M136.70,324.50 v2.80 M117.25,324.50 v2.20 M152.12,324.50 v2.20 M133.40,324.50 v2.80 M136.89,324.50 v2.80 M164.08,324.50 v2.00 M169.98,324.50 v2.00 M174.17,324.50 v2.00 M177.42,324.50 v2.00 M180.07,324.50 v2.00 M182.31,324.50 v2.00 M184.25,324.50 v2.00 M185.97,324.50 v2.00 M195.99,324.50 v2.00 M200.95,324.50 v2.00 M204.48,324.50 v2.00 M207.21,324.50 v2.00 M209.44,324.50 v2.00 M211.33,324.50 v2.00 M212.97,324.50 v2.00 M214.41,324.50 v2.00 M224.19,324.50 v2.00 " stroke="#222" stroke-width="0.8" fill="none"/>
<text x="107.90" y="337.70" font-size="9.00" fill="#222" text-anchor="start" textLength="2.60" lengthAdjust="spacingAndGlyphs" stroke="#222" stroke-width="0.20" >-</text>
<text x="111.30" y="337.70" font-size="9.00" fill="#222" text-anchor="start" textLength="8.10" lengthAdjust="spacingAndGlyphs" stroke="#222" stroke-width="0.20" >10</text>
<text x="120.30" y="334.30" font-size="5.80" fill="#222" text-anchor="start" textLength="2.90" lengthAdjust="spacingAndGlyphs" stroke="#222" stroke-width="0.20" >3</text>
<text x="137.30" y="337.70" font-size="9.00" fill="#222" text-anchor="middle" textLength="4.60" lengthAdjust="spacingAndGlyphs" stroke="#222" stroke-width="0.20" >0</text>
<text x="148.35" y="337.70" font-size="9.00" fill="#222" text-anchor="start" textLength="8.10" lengthAdjust="spacingAndGlyphs" stroke="#222" stroke-width="0.20" >10</text>
<text x="157.35" y="334.30" font-size="5.80" fill="#222" text-anchor="start" textLength="2.90" lengthAdjust="spacingAndGlyphs" stroke="#222" stroke-width="0.20" >3</text>
<text x="181.85" y="337.70" font-size="9.00" fill="#222" text-anchor="start" textLength="8.10" lengthAdjust="spacingAndGlyphs" stroke="#222" stroke-width="0.20" >10</text>
<text x="190.85" y="334.30" font-size="5.80" fill="#222" text-anchor="start" textLength="2.90" lengthAdjust="spacingAndGlyphs" stroke="#222" stroke-width="0.20" >4</text>
<text x="210.05" y="337.70" font-size="9.00" fill="#222" text-anchor="start" textLength="8.10" lengthAdjust="spacingAndGlyphs" stroke="#222" stroke-width="0.20" >10</text>
<text x="219.05" y="334.30" font-size="5.80" fill="#222" text-anchor="start" textLength="2.90" lengthAdjust="spacingAndGlyphs" stroke="#222" stroke-width="0.20" >5</text>
<path d="M288.00,276.90 L288.00,276.80 C288.67,276.80 289.33,276.80 290.00,276.80 C291.33,276.80 292.67,276.24 294.00,275.50 C294.83,275.04 295.67,273.69 296.50,272.00 C297.17,270.65 297.83,267.68 298.50,265.00 C299.00,262.99 299.50,260.49 300.00,258.00 C300.50,255.51 301.00,252.51 301.50,250.00 C302.13,246.81 302.77,243.29 303.40,241.00 C303.97,238.95 304.53,237.06 305.10,236.00 C305.50,235.25 305.90,234.30 306.30,234.30 C306.70,234.30 307.10,235.11 307.50,236.00 C307.93,236.96 308.37,240.46 308.80,243.00 C309.27,245.73 309.73,248.73 310.20,252.00 C310.63,255.04 311.07,259.26 311.50,262.00 C312.00,265.16 312.50,268.27 313.00,270.00 C313.67,272.31 314.33,274.33 315.00,275.00 C316.00,276.01 317.00,276.80 318.00,276.80 C318.67,276.80 319.33,276.80 320.00,276.80 L320.00,276.90 Z" fill="#c0d3a1"/>
<path d="M246.06,253.50 L247.00,253.50 L247.00,234.60 C247.17,240.27 247.33,251.11 247.50,251.60 C247.87,252.69 248.23,253.10 248.60,253.10 C249.53,253.10 250.47,252.53 251.40,252.40 C252.47,252.25 253.53,252.26 254.60,252.10 C256.00,251.89 257.40,250.85 258.80,250.00 C260.20,249.15 261.60,248.17 263.00,246.80 C264.07,245.76 265.13,244.56 266.20,242.60 C266.90,241.32 267.60,238.40 268.30,236.70 C269.03,234.92 269.77,233.69 270.50,232.00 C271.00,230.85 271.50,229.90 272.00,228.30 C272.53,226.59 273.07,222.54 273.60,220.90 C274.13,219.26 274.67,218.09 275.20,217.20 C275.73,216.31 276.27,216.00 276.80,215.10 C277.33,214.20 277.87,211.30 278.40,211.30 C278.73,211.30 279.07,214.89 279.40,215.10 C279.93,215.43 280.47,215.29 281.00,215.60 C281.53,215.91 282.07,219.78 282.60,221.90 C283.13,224.02 283.67,225.88 284.20,228.30 C284.73,230.72 285.27,234.06 285.80,236.70 C286.33,239.34 286.87,242.23 287.40,244.20 C288.10,246.79 288.80,249.43 289.50,250.50 C290.37,251.82 291.23,252.95 292.10,253.10 C293.70,253.37 295.30,253.37 296.90,253.50 L364.50,253.50" fill="none" stroke="#6ca84f" stroke-width="1.05"/>
<path d="M246.06,276.90 L288.00,276.90 L288.00,276.80 C288.67,276.80 289.33,276.80 290.00,276.80 C291.33,276.80 292.67,276.24 294.00,275.50 C294.83,275.04 295.67,273.69 296.50,272.00 C297.17,270.65 297.83,267.68 298.50,265.00 C299.00,262.99 299.50,260.49 300.00,258.00 C300.50,255.51 301.00,252.51 301.50,250.00 C302.13,246.81 302.77,243.29 303.40,241.00 C303.97,238.95 304.53,237.06 305.10,236.00 C305.50,235.25 305.90,234.30 306.30,234.30 C306.70,234.30 307.10,235.11 307.50,236.00 C307.93,236.96 308.37,240.46 308.80,243.00 C309.27,245.73 309.73,248.73 310.20,252.00 C310.63,255.04 311.07,259.26 311.50,262.00 C312.00,265.16 312.50,268.27 313.00,270.00 C313.67,272.31 314.33,274.33 315.00,275.00 C316.00,276.01 317.00,276.80 318.00,276.80 C318.67,276.80 319.33,276.80 320.00,276.80 L364.50,276.90" fill="none" stroke="#6ca84f" stroke-width="1.05"/>
<path d="M247.00,300.50 L247.00,282.80 C247.17,288.27 247.33,299.20 247.50,299.20 C248.00,299.20 248.50,299.20 249.00,299.20 C250.17,299.20 251.33,298.55 252.50,298.10 C253.53,297.70 254.57,297.02 255.60,296.60 C256.67,296.17 257.73,296.01 258.80,295.50 C259.70,295.07 260.60,294.34 261.50,293.40 C262.20,292.67 262.90,291.57 263.60,290.20 C264.13,289.16 264.67,287.49 265.20,286.00 C265.73,284.51 266.27,282.53 266.80,281.20 C267.30,279.96 267.80,279.45 268.30,278.00 C268.67,276.94 269.03,275.11 269.40,273.30 C269.77,271.49 270.13,268.38 270.50,266.90 C270.83,265.56 271.17,264.45 271.50,263.80 C272.03,262.75 272.57,262.46 273.10,261.60 C273.47,261.01 273.83,259.60 274.20,259.50 C274.70,259.37 275.20,259.37 275.70,259.30 C276.37,259.21 277.03,259.00 277.70,259.00 C277.93,259.00 278.17,261.72 278.40,262.70 C278.93,264.94 279.47,266.08 280.00,268.00 C280.53,269.92 281.07,272.03 281.60,274.30 C282.13,276.57 282.67,279.14 283.20,281.70 C283.70,284.10 284.20,287.23 284.70,289.20 C285.23,291.31 285.77,293.16 286.30,294.40 C287.00,296.02 287.70,297.39 288.40,298.10 C289.47,299.19 290.53,300.16 291.60,300.30 C293.07,300.49 294.53,300.50 296.00,300.60 L296.00,300.50 Z" fill="#cb8884"/>
<path d="M247.00,300.50 L247.00,282.80 C247.17,288.27 247.33,299.20 247.50,299.20 C248.00,299.20 248.50,299.20 249.00,299.20 C250.17,299.20 251.33,298.55 252.50,298.10 C253.53,297.70 254.57,297.02 255.60,296.60 C256.67,296.17 257.73,296.01 258.80,295.50 C259.70,295.07 260.60,294.34 261.50,293.40 C262.20,292.67 262.90,291.57 263.60,290.20 C264.13,289.16 264.67,287.49 265.20,286.00 C265.73,284.51 266.27,282.53 266.80,281.20 C267.30,279.96 267.80,279.45 268.30,278.00 C268.67,276.94 269.03,275.11 269.40,273.30 C269.77,271.49 270.13,268.38 270.50,266.90 C270.83,265.56 271.17,264.45 271.50,263.80 C272.03,262.75 272.57,262.46 273.10,261.60 C273.47,261.01 273.83,259.60 274.20,259.50 C274.70,259.37 275.20,259.37 275.70,259.30 C276.37,259.21 277.03,259.00 277.70,259.00 C277.93,259.00 278.17,261.72 278.40,262.70 C278.93,264.94 279.47,266.08 280.00,268.00 C280.53,269.92 281.07,272.03 281.60,274.30 C282.13,276.57 282.67,279.14 283.20,281.70 C283.70,284.10 284.20,287.23 284.70,289.20 C285.23,291.31 285.77,293.16 286.30,294.40 C287.00,296.02 287.70,297.39 288.40,298.10 C289.47,299.19 290.53,300.16 291.60,300.30 C293.07,300.49 294.53,300.50 296.00,300.60 L296.00,300.50 Z" fill="#ab7866" clip-path="url(#c9)"/>
<path d="M246.06,276.90 L288.00,276.90 L288.00,276.80 C288.67,276.80 289.33,276.80 290.00,276.80 C291.33,276.80 292.67,276.24 294.00,275.50 C294.83,275.04 295.67,273.69 296.50,272.00 C297.17,270.65 297.83,267.68 298.50,265.00 C299.00,262.99 299.50,260.49 300.00,258.00 C300.50,255.51 301.00,252.51 301.50,250.00 C302.13,246.81 302.77,243.29 303.40,241.00 C303.97,238.95 304.53,237.06 305.10,236.00 C305.50,235.25 305.90,234.30 306.30,234.30 C306.70,234.30 307.10,235.11 307.50,236.00 C307.93,236.96 308.37,240.46 308.80,243.00 C309.27,245.73 309.73,248.73 310.20,252.00 C310.63,255.04 311.07,259.26 311.50,262.00 C312.00,265.16 312.50,268.27 313.00,270.00 C313.67,272.31 314.33,274.33 315.00,275.00 C316.00,276.01 317.00,276.80 318.00,276.80 C318.67,276.80 319.33,276.80 320.00,276.80 L364.50,276.90" fill="none" stroke="#6ca84f" stroke-width="1.05" opacity="0.35"/>
<path d="M246.06,300.50 L247.00,300.50 L247.00,282.80 C247.17,288.27 247.33,299.20 247.50,299.20 C248.00,299.20 248.50,299.20 249.00,299.20 C250.17,299.20 251.33,298.55 252.50,298.10 C253.53,297.70 254.57,297.02 255.60,296.60 C256.67,296.17 257.73,296.01 258.80,295.50 C259.70,295.07 260.60,294.34 261.50,293.40 C262.20,292.67 262.90,291.57 263.60,290.20 C264.13,289.16 264.67,287.49 265.20,286.00 C265.73,284.51 266.27,282.53 266.80,281.20 C267.30,279.96 267.80,279.45 268.30,278.00 C268.67,276.94 269.03,275.11 269.40,273.30 C269.77,271.49 270.13,268.38 270.50,266.90 C270.83,265.56 271.17,264.45 271.50,263.80 C272.03,262.75 272.57,262.46 273.10,261.60 C273.47,261.01 273.83,259.60 274.20,259.50 C274.70,259.37 275.20,259.37 275.70,259.30 C276.37,259.21 277.03,259.00 277.70,259.00 C277.93,259.00 278.17,261.72 278.40,262.70 C278.93,264.94 279.47,266.08 280.00,268.00 C280.53,269.92 281.07,272.03 281.60,274.30 C282.13,276.57 282.67,279.14 283.20,281.70 C283.70,284.10 284.20,287.23 284.70,289.20 C285.23,291.31 285.77,293.16 286.30,294.40 C287.00,296.02 287.70,297.39 288.40,298.10 C289.47,299.19 290.53,300.16 291.60,300.30 C293.07,300.49 294.53,300.50 296.00,300.60 L364.50,300.50" fill="none" stroke="#aa2a42" stroke-width="1.05"/>
<path d="M285.00,324.40 L285.00,324.50 C286.00,324.43 287.00,324.41 288.00,324.30 C289.33,324.15 290.67,323.38 292.00,322.50 C293.00,321.84 294.00,320.59 295.00,319.00 C295.83,317.68 296.67,315.29 297.50,313.00 C298.33,310.71 299.17,308.28 300.00,305.00 C300.67,302.38 301.33,297.96 302.00,295.00 C302.67,292.04 303.33,289.36 304.00,287.00 C304.47,285.35 304.93,283.31 305.40,282.50 C305.67,282.04 305.93,281.50 306.20,281.50 C306.53,281.50 306.87,282.16 307.20,282.80 C307.63,283.63 308.07,286.00 308.50,288.00 C309.10,290.77 309.70,294.41 310.30,298.00 C310.87,301.39 311.43,305.98 312.00,309.00 C312.67,312.56 313.33,315.86 314.00,318.00 C314.67,320.14 315.33,322.31 316.00,323.00 C316.67,323.69 317.33,324.21 318.00,324.30 C319.00,324.43 320.00,324.43 321.00,324.50 L321.00,324.40 Z" fill="#9b9db7"/>
<path d="M285.00,324.40 L285.00,324.50 C286.00,324.43 287.00,324.41 288.00,324.30 C289.33,324.15 290.67,323.38 292.00,322.50 C293.00,321.84 294.00,320.59 295.00,319.00 C295.83,317.68 296.67,315.29 297.50,313.00 C298.33,310.71 299.17,308.28 300.00,305.00 C300.67,302.38 301.33,297.96 302.00,295.00 C302.67,292.04 303.33,289.36 304.00,287.00 C304.47,285.35 304.93,283.31 305.40,282.50 C305.67,282.04 305.93,281.50 306.20,281.50 C306.53,281.50 306.87,282.16 307.20,282.80 C307.63,283.63 308.07,286.00 308.50,288.00 C309.10,290.77 309.70,294.41 310.30,298.00 C310.87,301.39 311.43,305.98 312.00,309.00 C312.67,312.56 313.33,315.86 314.00,318.00 C314.67,320.14 315.33,322.31 316.00,323.00 C316.67,323.69 317.33,324.21 318.00,324.30 C319.00,324.43 320.00,324.43 321.00,324.50 L321.00,324.40 Z" fill="#8a7088" clip-path="url(#c10)"/>
<path d="M246.06,300.50 L247.00,300.50 L247.00,282.80 C247.17,288.27 247.33,299.20 247.50,299.20 C248.00,299.20 248.50,299.20 249.00,299.20 C250.17,299.20 251.33,298.55 252.50,298.10 C253.53,297.70 254.57,297.02 255.60,296.60 C256.67,296.17 257.73,296.01 258.80,295.50 C259.70,295.07 260.60,294.34 261.50,293.40 C262.20,292.67 262.90,291.57 263.60,290.20 C264.13,289.16 264.67,287.49 265.20,286.00 C265.73,284.51 266.27,282.53 266.80,281.20 C267.30,279.96 267.80,279.45 268.30,278.00 C268.67,276.94 269.03,275.11 269.40,273.30 C269.77,271.49 270.13,268.38 270.50,266.90 C270.83,265.56 271.17,264.45 271.50,263.80 C272.03,262.75 272.57,262.46 273.10,261.60 C273.47,261.01 273.83,259.60 274.20,259.50 C274.70,259.37 275.20,259.37 275.70,259.30 C276.37,259.21 277.03,259.00 277.70,259.00 C277.93,259.00 278.17,261.72 278.40,262.70 C278.93,264.94 279.47,266.08 280.00,268.00 C280.53,269.92 281.07,272.03 281.60,274.30 C282.13,276.57 282.67,279.14 283.20,281.70 C283.70,284.10 284.20,287.23 284.70,289.20 C285.23,291.31 285.77,293.16 286.30,294.40 C287.00,296.02 287.70,297.39 288.40,298.10 C289.47,299.19 290.53,300.16 291.60,300.30 C293.07,300.49 294.53,300.50 296.00,300.60 L364.50,300.50" fill="none" stroke="#aa2a42" stroke-width="1.05" opacity="0.35"/>
<path d="M246.06,205.05 L364.50,205.05 L364.50,324.40 L246.06,324.40 Z" fill="none" stroke="#1e1e1e" stroke-width="1.3"/>
<path d="M246.06,324.40 L285.00,324.40 L285.00,324.50 C286.00,324.43 287.00,324.41 288.00,324.30 C289.33,324.15 290.67,323.38 292.00,322.50 C293.00,321.84 294.00,320.59 295.00,319.00 C295.83,317.68 296.67,315.29 297.50,313.00 C298.33,310.71 299.17,308.28 300.00,305.00 C300.67,302.38 301.33,297.96 302.00,295.00 C302.67,292.04 303.33,289.36 304.00,287.00 C304.47,285.35 304.93,283.31 305.40,282.50 C305.67,282.04 305.93,281.50 306.20,281.50 C306.53,281.50 306.87,282.16 307.20,282.80 C307.63,283.63 308.07,286.00 308.50,288.00 C309.10,290.77 309.70,294.41 310.30,298.00 C310.87,301.39 311.43,305.98 312.00,309.00 C312.67,312.56 313.33,315.86 314.00,318.00 C314.67,320.14 315.33,322.31 316.00,323.00 C316.67,323.69 317.33,324.21 318.00,324.30 C319.00,324.43 320.00,324.43 321.00,324.50 L364.50,324.40" fill="none" stroke="#46618e" stroke-width="1.05"/>
<text x="265.00" y="198.40" font-size="10.00" fill="#222" text-anchor="start" textLength="79.70" lengthAdjust="spacingAndGlyphs" stroke="#222" stroke-width="0.20" >anti-CD19 (HIB19)</text>
<path d="M246.06,324.40 v3.60 M254.28,324.40 v2.00 M259.09,324.40 v2.00 M262.50,324.40 v2.00 M265.14,324.40 v2.00 M267.30,324.40 v2.00 M269.13,324.40 v2.00 M270.71,324.40 v2.00 M272.11,324.40 v2.00 M273.36,324.40 v3.60 M281.58,324.40 v2.00 M286.39,324.40 v2.00 M289.80,324.40 v2.00 M292.44,324.40 v2.00 M294.60,324.40 v2.00 M296.43,324.40 v2.00 M298.01,324.40 v2.00 M299.41,324.40 v2.00 M300.66,324.40 v3.60 M308.88,324.40 v2.00 M313.69,324.40 v2.00 M317.10,324.40 v2.00 M319.74,324.40 v2.00 M321.90,324.40 v2.00 M323.73,324.40 v2.00 M325.31,324.40 v2.00 M326.71,324.40 v2.00 M327.96,324.40 v3.60 M336.18,324.40 v2.00 M340.99,324.40 v2.00 M344.40,324.40 v2.00 M347.04,324.40 v2.00 M349.20,324.40 v2.00 M351.03,324.40 v2.00 M352.61,324.40 v2.00 M354.01,324.40 v2.00 M355.26,324.40 v3.60 M363.48,324.40 v2.00 " stroke="#222" stroke-width="0.8" fill="none"/>
<text x="240.41" y="337.60" font-size="9.00" fill="#222" text-anchor="start" textLength="8.10" lengthAdjust="spacingAndGlyphs" stroke="#222" stroke-width="0.20" >10</text>
<text x="249.41" y="334.20" font-size="5.80" fill="#222" text-anchor="start" textLength="2.90" lengthAdjust="spacingAndGlyphs" stroke="#222" stroke-width="0.20" >1</text>
<text x="267.71" y="337.60" font-size="9.00" fill="#222" text-anchor="start" textLength="8.10" lengthAdjust="spacingAndGlyphs" stroke="#222" stroke-width="0.20" >10</text>
<text x="276.71" y="334.20" font-size="5.80" fill="#222" text-anchor="start" textLength="2.90" lengthAdjust="spacingAndGlyphs" stroke="#222" stroke-width="0.20" >2</text>
<text x="295.01" y="337.60" font-size="9.00" fill="#222" text-anchor="start" textLength="8.10" lengthAdjust="spacingAndGlyphs" stroke="#222" stroke-width="0.20" >10</text>
<text x="304.01" y="334.20" font-size="5.80" fill="#222" text-anchor="start" textLength="2.90" lengthAdjust="spacingAndGlyphs" stroke="#222" stroke-width="0.20" >3</text>
<text x="322.31" y="337.60" font-size="9.00" fill="#222" text-anchor="start" textLength="8.10" lengthAdjust="spacingAndGlyphs" stroke="#222" stroke-width="0.20" >10</text>
<text x="331.31" y="334.20" font-size="5.80" fill="#222" text-anchor="start" textLength="2.90" lengthAdjust="spacingAndGlyphs" stroke="#222" stroke-width="0.20" >4</text>
<text x="349.61" y="337.60" font-size="9.00" fill="#222" text-anchor="start" textLength="8.10" lengthAdjust="spacingAndGlyphs" stroke="#222" stroke-width="0.20" >10</text>
<text x="358.61" y="334.20" font-size="5.80" fill="#222" text-anchor="start" textLength="2.90" lengthAdjust="spacingAndGlyphs" stroke="#222" stroke-width="0.20" >5</text>
<path d="M405.00,276.30 L405.00,276.60 C408.87,276.53 412.73,276.58 416.60,276.40 C417.07,276.38 417.53,274.89 418.00,273.20 C418.43,271.63 418.87,266.84 419.30,262.30 C419.63,258.81 419.97,253.26 420.30,248.70 C420.57,245.05 420.83,238.93 421.10,237.70 C421.43,236.16 421.77,235.36 422.10,235.00 C422.23,234.86 422.37,234.70 422.50,234.70 C422.80,234.70 423.10,238.20 423.40,240.50 C423.73,243.05 424.07,247.21 424.40,250.00 C424.77,253.07 425.13,255.93 425.50,258.20 C425.93,260.88 426.37,263.58 426.80,265.00 C427.50,267.30 428.20,268.81 428.90,269.80 C429.80,271.07 430.70,271.81 431.60,272.50 C432.73,273.37 433.87,274.29 435.00,274.60 C436.83,275.10 438.67,275.35 440.50,275.50 C443.67,275.76 446.83,275.90 450.00,276.00 C456.67,276.20 463.33,276.31 470.00,276.40 C476.67,276.49 483.33,276.53 490.00,276.60 L490.00,276.30 Z" fill="#c0d3a1"/>
<path d="M389.75,253.00 L405.00,253.00 L405.00,253.10 C408.17,253.07 411.33,253.09 414.50,253.00 C414.97,252.99 415.43,251.95 415.90,250.70 C416.37,249.45 416.83,244.99 417.30,240.50 C417.67,236.97 418.03,230.88 418.40,225.50 C418.63,222.07 418.87,216.93 419.10,214.50 C419.27,212.76 419.43,210.50 419.60,210.50 C419.83,210.50 420.07,212.63 420.30,214.50 C420.57,216.63 420.83,221.85 421.10,225.50 C421.43,230.06 421.77,235.87 422.10,239.10 C422.53,243.30 422.97,247.49 423.40,248.70 C424.10,250.66 424.80,251.70 425.50,252.10 C426.40,252.61 427.30,252.95 428.20,253.00 C429.47,253.06 430.73,253.07 432.00,253.10 L509.40,253.00" fill="none" stroke="#6ca84f" stroke-width="1.05"/>
<path d="M389.75,276.30 L405.00,276.30 L405.00,276.60 C408.87,276.53 412.73,276.58 416.60,276.40 C417.07,276.38 417.53,274.89 418.00,273.20 C418.43,271.63 418.87,266.84 419.30,262.30 C419.63,258.81 419.97,253.26 420.30,248.70 C420.57,245.05 420.83,238.93 421.10,237.70 C421.43,236.16 421.77,235.36 422.10,235.00 C422.23,234.86 422.37,234.70 422.50,234.70 C422.80,234.70 423.10,238.20 423.40,240.50 C423.73,243.05 424.07,247.21 424.40,250.00 C424.77,253.07 425.13,255.93 425.50,258.20 C425.93,260.88 426.37,263.58 426.80,265.00 C427.50,267.30 428.20,268.81 428.90,269.80 C429.80,271.07 430.70,271.81 431.60,272.50 C432.73,273.37 433.87,274.29 435.00,274.60 C436.83,275.10 438.67,275.35 440.50,275.50 C443.67,275.76 446.83,275.90 450.00,276.00 C456.67,276.20 463.33,276.31 470.00,276.40 C476.67,276.49 483.33,276.53 490.00,276.60 L509.40,276.30" fill="none" stroke="#6ca84f" stroke-width="1.05"/>
<path d="M412.00,300.60 L412.00,300.60 C413.00,300.60 414.00,300.60 415.00,300.60 C417.43,300.60 419.87,300.15 422.30,299.40 C423.53,299.02 424.77,297.38 426.00,295.70 C426.90,294.47 427.80,291.15 428.70,290.20 C429.13,289.74 429.57,289.67 430.00,289.20 C430.57,288.58 431.13,286.81 431.70,285.80 C432.43,284.49 433.17,282.30 433.90,282.30 C434.63,282.30 435.37,284.50 436.10,284.50 C436.80,284.50 437.50,282.80 438.20,282.80 C438.93,282.80 439.67,284.18 440.40,284.90 C441.27,285.75 442.13,286.51 443.00,287.50 C443.87,288.49 444.73,289.80 445.60,291.00 C446.30,291.97 447.00,293.14 447.70,294.00 C448.73,295.27 449.77,297.30 450.80,297.30 C451.67,297.30 452.53,297.13 453.40,297.00 C454.27,296.87 455.13,296.40 456.00,296.40 C457.13,296.40 458.27,296.60 459.40,296.60 C460.57,296.60 461.73,295.86 462.90,295.30 C463.77,294.88 464.63,294.19 465.50,293.60 C466.07,293.21 466.63,292.98 467.20,292.40 C467.77,291.82 468.33,290.27 468.90,289.20 C469.50,288.07 470.10,287.38 470.70,285.80 C471.27,284.31 471.83,280.91 472.40,278.50 C473.07,275.67 473.73,272.27 474.40,270.10 C475.33,267.06 476.27,264.69 477.20,262.80 C477.93,261.31 478.67,259.10 479.40,259.10 C480.00,259.10 480.60,259.61 481.20,260.10 C481.80,260.59 482.40,262.19 483.00,262.80 C483.80,263.61 484.60,263.73 485.40,264.60 C486.30,265.58 487.20,267.84 488.10,270.10 C489.03,272.44 489.97,276.19 490.90,279.30 C491.80,282.29 492.70,285.97 493.60,288.40 C494.83,291.73 496.07,295.10 497.30,296.60 C498.80,298.43 500.30,300.06 501.80,300.30 C502.87,300.47 503.93,300.50 505.00,300.60 L505.00,300.60 Z" fill="#cb8884"/>
<path d="M412.00,300.60 L412.00,300.60 C413.00,300.60 414.00,300.60 415.00,300.60 C417.43,300.60 419.87,300.15 422.30,299.40 C423.53,299.02 424.77,297.38 426.00,295.70 C426.90,294.47 427.80,291.15 428.70,290.20 C429.13,289.74 429.57,289.67 430.00,289.20 C430.57,288.58 431.13,286.81 431.70,285.80 C432.43,284.49 433.17,282.30 433.90,282.30 C434.63,282.30 435.37,284.50 436.10,284.50 C436.80,284.50 437.50,282.80 438.20,282.80 C438.93,282.80 439.67,284.18 440.40,284.90 C441.27,285.75 442.13,286.51 443.00,287.50 C443.87,288.49 444.73,289.80 445.60,291.00 C446.30,291.97 447.00,293.14 447.70,294.00 C448.73,295.27 449.77,297.30 450.80,297.30 C451.67,297.30 452.53,297.13 453.40,297.00 C454.27,296.87 455.13,296.40 456.00,296.40 C457.13,296.40 458.27,296.60 459.40,296.60 C460.57,296.60 461.73,295.86 462.90,295.30 C463.77,294.88 464.63,294.19 465.50,293.60 C466.07,293.21 466.63,292.98 467.20,292.40 C467.77,291.82 468.33,290.27 468.90,289.20 C469.50,288.07 470.10,287.38 470.70,285.80 C471.27,284.31 471.83,280.91 472.40,278.50 C473.07,275.67 473.73,272.27 474.40,270.10 C475.33,267.06 476.27,264.69 477.20,262.80 C477.93,261.31 478.67,259.10 479.40,259.10 C480.00,259.10 480.60,259.61 481.20,260.10 C481.80,260.59 482.40,262.19 483.00,262.80 C483.80,263.61 484.60,263.73 485.40,264.60 C486.30,265.58 487.20,267.84 488.10,270.10 C489.03,272.44 489.97,276.19 490.90,279.30 C491.80,282.29 492.70,285.97 493.60,288.40 C494.83,291.73 496.07,295.10 497.30,296.60 C498.80,298.43 500.30,300.06 501.80,300.30 C502.87,300.47 503.93,300.50 505.00,300.60 L505.00,300.60 Z" fill="#ab7866" clip-path="url(#c11)"/>
<path d="M389.75,276.30 L405.00,276.30 L405.00,276.60 C408.87,276.53 412.73,276.58 416.60,276.40 C417.07,276.38 417.53,274.89 418.00,273.20 C418.43,271.63 418.87,266.84 419.30,262.30 C419.63,258.81 419.97,253.26 420.30,248.70 C420.57,245.05 420.83,238.93 421.10,237.70 C421.43,236.16 421.77,235.36 422.10,235.00 C422.23,234.86 422.37,234.70 422.50,234.70 C422.80,234.70 423.10,238.20 423.40,240.50 C423.73,243.05 424.07,247.21 424.40,250.00 C424.77,253.07 425.13,255.93 425.50,258.20 C425.93,260.88 426.37,263.58 426.80,265.00 C427.50,267.30 428.20,268.81 428.90,269.80 C429.80,271.07 430.70,271.81 431.60,272.50 C432.73,273.37 433.87,274.29 435.00,274.60 C436.83,275.10 438.67,275.35 440.50,275.50 C443.67,275.76 446.83,275.90 450.00,276.00 C456.67,276.20 463.33,276.31 470.00,276.40 C476.67,276.49 483.33,276.53 490.00,276.60 L509.40,276.30" fill="none" stroke="#6ca84f" stroke-width="1.05" opacity="0.35"/>
<path d="M389.75,300.60 L412.00,300.60 L412.00,300.60 C413.00,300.60 414.00,300.60 415.00,300.60 C417.43,300.60 419.87,300.15 422.30,299.40 C423.53,299.02 424.77,297.38 426.00,295.70 C426.90,294.47 427.80,291.15 428.70,290.20 C429.13,289.74 429.57,289.67 430.00,289.20 C430.57,288.58 431.13,286.81 431.70,285.80 C432.43,284.49 433.17,282.30 433.90,282.30 C434.63,282.30 435.37,284.50 436.10,284.50 C436.80,284.50 437.50,282.80 438.20,282.80 C438.93,282.80 439.67,284.18 440.40,284.90 C441.27,285.75 442.13,286.51 443.00,287.50 C443.87,288.49 444.73,289.80 445.60,291.00 C446.30,291.97 447.00,293.14 447.70,294.00 C448.73,295.27 449.77,297.30 450.80,297.30 C451.67,297.30 452.53,297.13 453.40,297.00 C454.27,296.87 455.13,296.40 456.00,296.40 C457.13,296.40 458.27,296.60 459.40,296.60 C460.57,296.60 461.73,295.86 462.90,295.30 C463.77,294.88 464.63,294.19 465.50,293.60 C466.07,293.21 466.63,292.98 467.20,292.40 C467.77,291.82 468.33,290.27 468.90,289.20 C469.50,288.07 470.10,287.38 470.70,285.80 C471.27,284.31 471.83,280.91 472.40,278.50 C473.07,275.67 473.73,272.27 474.40,270.10 C475.33,267.06 476.27,264.69 477.20,262.80 C477.93,261.31 478.67,259.10 479.40,259.10 C480.00,259.10 480.60,259.61 481.20,260.10 C481.80,260.59 482.40,262.19 483.00,262.80 C483.80,263.61 484.60,263.73 485.40,264.60 C486.30,265.58 487.20,267.84 488.10,270.10 C489.03,272.44 489.97,276.19 490.90,279.30 C491.80,282.29 492.70,285.97 493.60,288.40 C494.83,291.73 496.07,295.10 497.30,296.60 C498.80,298.43 500.30,300.06 501.80,300.30 C502.87,300.47 503.93,300.50 505.00,300.60 L509.40,300.60" fill="none" stroke="#aa2a42" stroke-width="1.05"/>
<path d="M414.00,324.50 L414.00,324.50 C414.93,324.33 415.87,324.31 416.80,324.00 C417.73,323.69 418.67,320.29 419.60,318.60 C420.50,316.97 421.40,315.37 422.30,314.00 C423.20,312.63 424.10,310.30 425.00,310.30 C425.93,310.30 426.87,311.20 427.80,311.20 C428.53,311.20 429.27,310.76 430.00,310.40 C430.87,309.97 431.73,308.92 432.60,308.30 C433.77,307.47 434.93,306.10 436.10,306.10 C436.67,306.10 437.23,307.80 437.80,307.80 C438.37,307.80 438.93,304.56 439.50,303.10 C439.80,302.33 440.10,300.90 440.40,300.90 C440.97,300.90 441.53,301.80 442.10,301.80 C442.83,301.80 443.57,301.00 444.30,300.50 C445.00,300.02 445.70,299.61 446.40,298.80 C447.00,298.11 447.60,296.38 448.20,295.30 C448.63,294.52 449.07,293.29 449.50,293.10 C450.07,292.86 450.63,292.95 451.20,292.70 C451.63,292.51 452.07,290.68 452.50,290.10 C452.93,289.52 453.37,288.80 453.80,288.80 C454.23,288.80 454.67,289.70 455.10,289.70 C455.53,289.70 455.97,288.00 456.40,288.00 C456.83,288.00 457.27,289.70 457.70,289.70 C458.27,289.70 458.83,288.00 459.40,288.00 C459.97,288.00 460.53,288.80 461.10,288.80 C461.53,288.80 461.97,287.14 462.40,286.20 C462.70,285.55 463.00,284.10 463.30,284.10 C463.60,284.10 463.90,285.16 464.20,286.70 C464.33,287.38 464.47,291.41 464.60,291.80 C464.90,292.67 465.20,293.10 465.50,293.10 C466.07,293.10 466.63,292.70 467.20,292.70 C467.77,292.70 468.33,294.10 468.90,295.30 C469.33,296.22 469.77,298.17 470.20,299.60 C470.63,301.03 471.07,302.45 471.50,303.90 C471.93,305.35 472.37,307.21 472.80,308.30 C473.23,309.39 473.67,310.12 474.10,310.90 C475.13,312.75 476.17,314.50 477.20,315.80 C478.70,317.69 480.20,319.39 481.70,320.40 C483.53,321.63 485.37,322.69 487.20,323.10 C489.33,323.57 491.47,323.69 493.60,324.00 C494.73,324.16 495.87,324.33 497.00,324.50 L497.00,324.50 Z" fill="#9b9db7"/>
<path d="M414.00,324.50 L414.00,324.50 C414.93,324.33 415.87,324.31 416.80,324.00 C417.73,323.69 418.67,320.29 419.60,318.60 C420.50,316.97 421.40,315.37 422.30,314.00 C423.20,312.63 424.10,310.30 425.00,310.30 C425.93,310.30 426.87,311.20 427.80,311.20 C428.53,311.20 429.27,310.76 430.00,310.40 C430.87,309.97 431.73,308.92 432.60,308.30 C433.77,307.47 434.93,306.10 436.10,306.10 C436.67,306.10 437.23,307.80 437.80,307.80 C438.37,307.80 438.93,304.56 439.50,303.10 C439.80,302.33 440.10,300.90 440.40,300.90 C440.97,300.90 441.53,301.80 442.10,301.80 C442.83,301.80 443.57,301.00 444.30,300.50 C445.00,300.02 445.70,299.61 446.40,298.80 C447.00,298.11 447.60,296.38 448.20,295.30 C448.63,294.52 449.07,293.29 449.50,293.10 C450.07,292.86 450.63,292.95 451.20,292.70 C451.63,292.51 452.07,290.68 452.50,290.10 C452.93,289.52 453.37,288.80 453.80,288.80 C454.23,288.80 454.67,289.70 455.10,289.70 C455.53,289.70 455.97,288.00 456.40,288.00 C456.83,288.00 457.27,289.70 457.70,289.70 C458.27,289.70 458.83,288.00 459.40,288.00 C459.97,288.00 460.53,288.80 461.10,288.80 C461.53,288.80 461.97,287.14 462.40,286.20 C462.70,285.55 463.00,284.10 463.30,284.10 C463.60,284.10 463.90,285.16 464.20,286.70 C464.33,287.38 464.47,291.41 464.60,291.80 C464.90,292.67 465.20,293.10 465.50,293.10 C466.07,293.10 466.63,292.70 467.20,292.70 C467.77,292.70 468.33,294.10 468.90,295.30 C469.33,296.22 469.77,298.17 470.20,299.60 C470.63,301.03 471.07,302.45 471.50,303.90 C471.93,305.35 472.37,307.21 472.80,308.30 C473.23,309.39 473.67,310.12 474.10,310.90 C475.13,312.75 476.17,314.50 477.20,315.80 C478.70,317.69 480.20,319.39 481.70,320.40 C483.53,321.63 485.37,322.69 487.20,323.10 C489.33,323.57 491.47,323.69 493.60,324.00 C494.73,324.16 495.87,324.33 497.00,324.50 L497.00,324.50 Z" fill="#8a7088" clip-path="url(#c12)"/>
<path d="M389.75,300.60 L412.00,300.60 L412.00,300.60 C413.00,300.60 414.00,300.60 415.00,300.60 C417.43,300.60 419.87,300.15 422.30,299.40 C423.53,299.02 424.77,297.38 426.00,295.70 C426.90,294.47 427.80,291.15 428.70,290.20 C429.13,289.74 429.57,289.67 430.00,289.20 C430.57,288.58 431.13,286.81 431.70,285.80 C432.43,284.49 433.17,282.30 433.90,282.30 C434.63,282.30 435.37,284.50 436.10,284.50 C436.80,284.50 437.50,282.80 438.20,282.80 C438.93,282.80 439.67,284.18 440.40,284.90 C441.27,285.75 442.13,286.51 443.00,287.50 C443.87,288.49 444.73,289.80 445.60,291.00 C446.30,291.97 447.00,293.14 447.70,294.00 C448.73,295.27 449.77,297.30 450.80,297.30 C451.67,297.30 452.53,297.13 453.40,297.00 C454.27,296.87 455.13,296.40 456.00,296.40 C457.13,296.40 458.27,296.60 459.40,296.60 C460.57,296.60 461.73,295.86 462.90,295.30 C463.77,294.88 464.63,294.19 465.50,293.60 C466.07,293.21 466.63,292.98 467.20,292.40 C467.77,291.82 468.33,290.27 468.90,289.20 C469.50,288.07 470.10,287.38 470.70,285.80 C471.27,284.31 471.83,280.91 472.40,278.50 C473.07,275.67 473.73,272.27 474.40,270.10 C475.33,267.06 476.27,264.69 477.20,262.80 C477.93,261.31 478.67,259.10 479.40,259.10 C480.00,259.10 480.60,259.61 481.20,260.10 C481.80,260.59 482.40,262.19 483.00,262.80 C483.80,263.61 484.60,263.73 485.40,264.60 C486.30,265.58 487.20,267.84 488.10,270.10 C489.03,272.44 489.97,276.19 490.90,279.30 C491.80,282.29 492.70,285.97 493.60,288.40 C494.83,291.73 496.07,295.10 497.30,296.60 C498.80,298.43 500.30,300.06 501.80,300.30 C502.87,300.47 503.93,300.50 505.00,300.60 L509.40,300.60" fill="none" stroke="#aa2a42" stroke-width="1.05" opacity="0.35"/>
<path d="M389.75,204.50 L509.40,204.50 L509.40,324.50 L389.75,324.50 Z" fill="none" stroke="#1e1e1e" stroke-width="1.3"/>
<path d="M389.75,324.50 L414.00,324.50 L414.00,324.50 C414.93,324.33 415.87,324.31 416.80,324.00 C417.73,323.69 418.67,320.29 419.60,318.60 C420.50,316.97 421.40,315.37 422.30,314.00 C423.20,312.63 424.10,310.30 425.00,310.30 C425.93,310.30 426.87,311.20 427.80,311.20 C428.53,311.20 429.27,310.76 430.00,310.40 C430.87,309.97 431.73,308.92 432.60,308.30 C433.77,307.47 434.93,306.10 436.10,306.10 C436.67,306.10 437.23,307.80 437.80,307.80 C438.37,307.80 438.93,304.56 439.50,303.10 C439.80,302.33 440.10,300.90 440.40,300.90 C440.97,300.90 441.53,301.80 442.10,301.80 C442.83,301.80 443.57,301.00 444.30,300.50 C445.00,300.02 445.70,299.61 446.40,298.80 C447.00,298.11 447.60,296.38 448.20,295.30 C448.63,294.52 449.07,293.29 449.50,293.10 C450.07,292.86 450.63,292.95 451.20,292.70 C451.63,292.51 452.07,290.68 452.50,290.10 C452.93,289.52 453.37,288.80 453.80,288.80 C454.23,288.80 454.67,289.70 455.10,289.70 C455.53,289.70 455.97,288.00 456.40,288.00 C456.83,288.00 457.27,289.70 457.70,289.70 C458.27,289.70 458.83,288.00 459.40,288.00 C459.97,288.00 460.53,288.80 461.10,288.80 C461.53,288.80 461.97,287.14 462.40,286.20 C462.70,285.55 463.00,284.10 463.30,284.10 C463.60,284.10 463.90,285.16 464.20,286.70 C464.33,287.38 464.47,291.41 464.60,291.80 C464.90,292.67 465.20,293.10 465.50,293.10 C466.07,293.10 466.63,292.70 467.20,292.70 C467.77,292.70 468.33,294.10 468.90,295.30 C469.33,296.22 469.77,298.17 470.20,299.60 C470.63,301.03 471.07,302.45 471.50,303.90 C471.93,305.35 472.37,307.21 472.80,308.30 C473.23,309.39 473.67,310.12 474.10,310.90 C475.13,312.75 476.17,314.50 477.20,315.80 C478.70,317.69 480.20,319.39 481.70,320.40 C483.53,321.63 485.37,322.69 487.20,323.10 C489.33,323.57 491.47,323.69 493.60,324.00 C494.73,324.16 495.87,324.33 497.00,324.50 L509.40,324.50" fill="none" stroke="#46618e" stroke-width="1.05"/>
<text x="425.40" y="198.40" font-size="10.00" fill="#222" text-anchor="start" textLength="48.00" lengthAdjust="spacingAndGlyphs" stroke="#222" stroke-width="0.20" >anti-c-Myc</text>
<path d="M397.00,324.50 v3.60 M416.95,324.50 v3.60 M435.75,324.50 v3.60 M469.25,324.50 v3.60 M497.45,324.50 v3.60 M414.95,324.50 v2.20 M418.83,324.50 v2.20 M416.75,324.50 v2.80 M417.14,324.50 v2.80 M412.96,324.50 v2.20 M420.71,324.50 v2.20 M416.55,324.50 v2.80 M417.33,324.50 v2.80 M410.96,324.50 v2.20 M422.59,324.50 v2.20 M416.35,324.50 v2.80 M417.51,324.50 v2.80 M408.97,324.50 v2.20 M424.47,324.50 v2.20 M416.15,324.50 v2.80 M417.70,324.50 v2.80 M406.98,324.50 v2.20 M426.35,324.50 v2.20 M415.95,324.50 v2.80 M417.89,324.50 v2.80 M404.98,324.50 v2.20 M428.23,324.50 v2.20 M415.75,324.50 v2.80 M418.08,324.50 v2.80 M402.99,324.50 v2.20 M430.11,324.50 v2.20 M415.55,324.50 v2.80 M418.27,324.50 v2.80 M400.99,324.50 v2.20 M431.99,324.50 v2.20 M415.35,324.50 v2.80 M418.45,324.50 v2.80 M399.00,324.50 v2.20 M433.87,324.50 v2.20 M415.15,324.50 v2.80 M418.64,324.50 v2.80 M445.83,324.50 v2.00 M451.73,324.50 v2.00 M455.92,324.50 v2.00 M459.17,324.50 v2.00 M461.82,324.50 v2.00 M464.06,324.50 v2.00 M466.00,324.50 v2.00 M467.72,324.50 v2.00 M477.74,324.50 v2.00 M482.70,324.50 v2.00 M486.23,324.50 v2.00 M488.96,324.50 v2.00 M491.19,324.50 v2.00 M493.08,324.50 v2.00 M494.72,324.50 v2.00 M496.16,324.50 v2.00 M505.94,324.50 v2.00 " stroke="#222" stroke-width="0.8" fill="none"/>
<text x="389.65" y="337.70" font-size="9.00" fill="#222" text-anchor="start" textLength="2.60" lengthAdjust="spacingAndGlyphs" stroke="#222" stroke-width="0.20" >-</text>
<text x="393.05" y="337.70" font-size="9.00" fill="#222" text-anchor="start" textLength="8.10" lengthAdjust="spacingAndGlyphs" stroke="#222" stroke-width="0.20" >10</text>
<text x="402.05" y="334.30" font-size="5.80" fill="#222" text-anchor="start" textLength="2.90" lengthAdjust="spacingAndGlyphs" stroke="#222" stroke-width="0.20" >3</text>
<text x="419.05" y="337.70" font-size="9.00" fill="#222" text-anchor="middle" textLength="4.60" lengthAdjust="spacingAndGlyphs" stroke="#222" stroke-width="0.20" >0</text>
<text x="430.10" y="337.70" font-size="9.00" fill="#222" text-anchor="start" textLength="8.10" lengthAdjust="spacingAndGlyphs" stroke="#222" stroke-width="0.20" >10</text>
<text x="439.10" y="334.30" font-size="5.80" fill="#222" text-anchor="start" textLength="2.90" lengthAdjust="spacingAndGlyphs" stroke="#222" stroke-width="0.20" >3</text>
<text x="463.60" y="337.70" font-size="9.00" fill="#222" text-anchor="start" textLength="8.10" lengthAdjust="spacingAndGlyphs" stroke="#222" stroke-width="0.20" >10</text>
<text x="472.60" y="334.30" font-size="5.80" fill="#222" text-anchor="start" textLength="2.90" lengthAdjust="spacingAndGlyphs" stroke="#222" stroke-width="0.20" >4</text>
<text x="491.80" y="337.70" font-size="9.00" fill="#222" text-anchor="start" textLength="8.10" lengthAdjust="spacingAndGlyphs" stroke="#222" stroke-width="0.20" >10</text>
<text x="500.80" y="334.30" font-size="5.80" fill="#222" text-anchor="start" textLength="2.90" lengthAdjust="spacingAndGlyphs" stroke="#222" stroke-width="0.20" >5</text>
<text x="103.50" y="256.30" font-size="10.00" fill="#6ca84f" text-anchor="end" textLength="14.60" lengthAdjust="spacingAndGlyphs" stroke="#6ca84f" stroke-width="0.20" >J76</text>
<text x="102.40" y="280.90" font-size="10.00" fill="#6ca84f" text-anchor="end" textLength="23.20" lengthAdjust="spacingAndGlyphs" stroke="#6ca84f" stroke-width="0.20" >BL-41</text>
<text x="102.40" y="303.90" font-size="10.00" fill="#aa2a42" text-anchor="end" textLength="69.20" lengthAdjust="spacingAndGlyphs" stroke="#aa2a42" stroke-width="0.20" >CD19CAR BL-41</text>
<text x="102.40" y="327.60" font-size="10.00" fill="#46618e" text-anchor="end" textLength="69.20" lengthAdjust="spacingAndGlyphs" stroke="#46618e" stroke-width="0.20" >CD37CAR BL-41</text>
<text x="8.50" y="369.70" font-size="13.40" fill="#111" text-anchor="start" textLength="7.00" lengthAdjust="spacingAndGlyphs" stroke="#111" stroke-width="0.20" >B</text>
<path d="M59.25,377.8 V512.4" stroke="#222" stroke-width="1.35" fill="none"/>
<path d="M55.6,512.00 H59 M55.6,479.19 H59 M55.6,446.38 H59 M55.6,413.56 H59 M55.6,380.75 H59 " stroke="#222" stroke-width="1.1" fill="none"/>
<text x="52.20" y="515.20" font-size="9.00" fill="#222" text-anchor="end" textLength="4.40" lengthAdjust="spacingAndGlyphs" stroke="#222" stroke-width="0.20" >0</text>
<text x="52.20" y="482.39" font-size="9.00" fill="#222" text-anchor="end" textLength="8.60" lengthAdjust="spacingAndGlyphs" stroke="#222" stroke-width="0.20" >25</text>
<text x="52.20" y="449.57" font-size="9.00" fill="#222" text-anchor="end" textLength="8.60" lengthAdjust="spacingAndGlyphs" stroke="#222" stroke-width="0.20" >50</text>
<text x="52.20" y="416.76" font-size="9.00" fill="#222" text-anchor="end" textLength="8.60" lengthAdjust="spacingAndGlyphs" stroke="#222" stroke-width="0.20" >75</text>
<text x="52.20" y="383.95" font-size="9.00" fill="#222" text-anchor="end" textLength="12.60" lengthAdjust="spacingAndGlyphs" stroke="#222" stroke-width="0.20" >100</text>
<path d="M59,511.9 H258.8" stroke="#333" stroke-width="1.3" fill="none"/>
<path d="M59.00,511.9 V515.4 M98.28,511.9 V515.4 M137.56,511.9 V515.4 M176.84,511.9 V515.4 M216.12,511.9 V515.4 M255.40,511.9 V515.4 " stroke="#222" stroke-width="1.1" fill="none"/>
<text x="59.00" y="526.60" font-size="9.00" fill="#222" text-anchor="middle" textLength="4.60" lengthAdjust="spacingAndGlyphs" stroke="#222" stroke-width="0.20" >0</text>
<text x="98.28" y="526.60" font-size="9.00" fill="#222" text-anchor="middle" textLength="4.60" lengthAdjust="spacingAndGlyphs" stroke="#222" stroke-width="0.20" >2</text>
<text x="137.56" y="526.60" font-size="9.00" fill="#222" text-anchor="middle" textLength="4.60" lengthAdjust="spacingAndGlyphs" stroke="#222" stroke-width="0.20" >4</text>
<text x="176.84" y="526.60" font-size="9.00" fill="#222" text-anchor="middle" textLength="4.60" lengthAdjust="spacingAndGlyphs" stroke="#222" stroke-width="0.20" >6</text>
<text x="216.12" y="526.60" font-size="9.00" fill="#222" text-anchor="middle" textLength="4.60" lengthAdjust="spacingAndGlyphs" stroke="#222" stroke-width="0.20" >8</text>
<text x="255.40" y="526.60" font-size="9.00" fill="#222" text-anchor="middle" textLength="9.20" lengthAdjust="spacingAndGlyphs" stroke="#222" stroke-width="0.20" >10</text>
<text x="145.60" y="541.50" font-size="11.30" fill="#222" text-anchor="start" textLength="25.70" lengthAdjust="spacingAndGlyphs" stroke="#222" stroke-width="0.20" >Hours</text>
<text x="0" y="0" font-size="11.2" fill="#222" stroke="#222" stroke-width="0.20" textLength="108" lengthAdjust="spacingAndGlyphs" transform="translate(30.4,498.7) rotate(-90)">Specific lysis of BL41 (%)</text>
<path d="M59.00,512.00 L61.95,511.82 L64.89,511.65 L67.84,511.47 L70.78,511.30 L73.73,511.12 L76.68,510.95 L79.62,510.78 L82.57,510.61 L85.51,510.44 L88.46,510.27 L91.41,510.10 L94.35,509.93 L97.30,509.76 L100.24,509.60 L103.19,509.43 L106.14,509.26 L109.08,509.10 L112.03,508.94 L114.97,508.77 L117.92,508.61 L120.87,508.45 L123.81,508.29 L126.76,508.13 L129.70,507.97 L132.65,507.81 L135.60,507.65 L138.54,507.50 L141.49,507.34 L144.43,507.18 L147.38,507.03 L150.33,506.87 L153.27,506.72 L156.22,506.57 L159.16,506.41 L162.11,506.26 L165.06,506.11 L168.00,505.96 L170.95,505.81 L173.89,505.66 L176.84,505.51 L179.79,505.37 L182.73,505.22 L185.68,505.07 L188.62,504.93 L191.57,504.78 L194.52,504.64 L197.46,504.49 L200.41,504.35 L203.35,504.21 L206.30,504.07 L209.25,503.93 L212.19,503.78 L215.14,503.64 L218.08,503.51 L221.03,503.37 L223.98,503.23 L226.92,503.09 L229.87,502.95 L232.81,502.82 L235.76,502.68" stroke="#6aaa4e" stroke-width="1.0" fill="none"/>
<path d="M59.00,512.00 L61.95,511.81 L64.89,511.62 L67.84,511.44 L70.78,511.25 L73.73,511.07 L76.68,510.88 L79.62,510.70 L82.57,510.51 L85.51,510.33 L88.46,510.15 L91.41,509.97 L94.35,509.79 L97.30,509.61 L100.24,509.44 L103.19,509.26 L106.14,509.08 L109.08,508.91 L112.03,508.73 L114.97,508.56 L117.92,508.39 L120.87,508.21 L123.81,508.04 L126.76,507.87 L129.70,507.70 L132.65,507.53 L135.60,507.36 L138.54,507.19 L141.49,507.03 L144.43,506.86 L147.38,506.70 L150.33,506.53 L153.27,506.37 L156.22,506.20 L159.16,506.04 L162.11,505.88 L165.06,505.72 L168.00,505.56 L170.95,505.40 L173.89,505.24 L176.84,505.08 L179.79,504.92 L182.73,504.77 L185.68,504.61 L188.62,504.46 L191.57,504.30 L194.52,504.15 L197.46,503.99 L200.41,503.84 L203.35,503.69 L206.30,503.54 L209.25,503.39 L212.19,503.24 L215.14,503.09 L218.08,502.94 L221.03,502.79 L223.98,502.64 L226.92,502.50 L229.87,502.35 L232.81,502.21 L235.76,502.06" stroke="#6aaa4e" stroke-width="1.2" fill="none" stroke-dasharray="2.2,1.4"/>
<path d="M59.00,511.80 L220.05,511.80" stroke="#6aaa4e" stroke-width="1.6" fill="none"/>
<path d="M59.00,512.00 L61.95,510.94 L64.89,509.89 L67.84,508.85 L70.78,507.82 L73.73,506.79 L76.68,505.77 L79.62,504.77 L82.57,503.76 L85.51,502.77 L88.46,501.79 L91.41,500.81 L94.35,499.84 L97.30,498.88 L100.24,497.93 L103.19,496.98 L106.14,496.05 L109.08,495.12 L112.03,494.19 L114.97,493.28 L117.92,492.37 L120.87,491.47 L123.81,490.58 L126.76,489.69 L129.70,488.81 L132.65,487.94 L135.60,487.08 L138.54,486.22 L141.49,485.37 L144.43,484.52 L147.38,483.69 L150.33,482.86 L153.27,482.03 L156.22,481.21 L159.16,480.40 L162.11,479.60 L165.06,478.80 L168.00,478.01 L170.95,477.23 L173.89,476.45 L176.84,475.68 L179.79,474.91 L182.73,474.15 L185.68,473.40 L188.62,472.65 L191.57,471.91 L194.52,471.17 L197.46,470.44 L200.41,469.72 L203.35,469.00 L206.30,468.29 L209.25,467.58 L212.19,466.88 L215.14,466.19 L218.08,465.50 L221.03,464.82 L223.98,464.14 L226.92,463.47 L229.87,462.80 L232.81,462.14 L235.76,461.48" stroke="#a8283e" stroke-width="1.0" fill="none"/>
<path d="M59.00,512.00 L61.95,507.00 L64.89,502.20 L67.84,497.58 L70.78,493.16 L73.73,488.90 L76.68,484.82 L79.62,480.90 L82.57,477.13 L85.51,473.51 L88.46,470.04 L91.41,466.70 L94.35,463.50 L97.30,460.42 L100.24,457.47 L103.19,454.63 L106.14,451.91 L109.08,449.29 L112.03,446.78 L114.97,444.37 L117.92,442.05 L120.87,439.83 L123.81,437.69 L126.76,435.64 L129.70,433.67 L132.65,431.78 L135.60,429.96 L138.54,428.22 L141.49,426.54 L144.43,424.93 L147.38,423.39 L150.33,421.90 L153.27,420.48 L156.22,419.11 L159.16,417.79 L162.11,416.53 L165.06,415.32 L168.00,414.16 L170.95,413.04 L173.89,411.97 L176.84,410.94 L179.79,409.95 L182.73,409.00 L185.68,408.08 L188.62,407.21 L191.57,406.36 L194.52,405.56 L197.46,404.78 L200.41,404.03 L203.35,403.32 L206.30,402.63 L209.25,401.97 L212.19,401.34 L215.14,400.73 L218.08,400.14 L221.03,399.58 L223.98,399.04 L226.92,398.53 L229.87,398.03 L232.81,397.55 L235.76,397.09" stroke="#3d5b8c" stroke-width="1.1" fill="none"/>
<path d="M59.00,512.00 L61.95,506.64 L64.89,501.50 L67.84,496.58 L70.78,491.88 L73.73,487.37 L76.68,483.06 L79.62,478.92 L82.57,474.97 L85.51,471.18 L88.46,467.56 L91.41,464.08 L94.35,460.76 L97.30,457.58 L100.24,454.53 L103.19,451.61 L106.14,448.82 L109.08,446.15 L112.03,443.59 L114.97,441.13 L117.92,438.79 L120.87,436.54 L123.81,434.39 L126.76,432.33 L129.70,430.36 L132.65,428.47 L135.60,426.66 L138.54,424.93 L141.49,423.27 L144.43,421.69 L147.38,420.17 L150.33,418.71 L153.27,417.32 L156.22,415.99 L159.16,414.71 L162.11,413.49 L165.06,412.32 L168.00,411.20 L170.95,410.13 L173.89,409.10 L176.84,408.12 L179.79,407.17 L182.73,406.27 L185.68,405.41 L188.62,404.58 L191.57,403.79 L194.52,403.04 L197.46,402.31 L200.41,401.62 L203.35,400.95 L206.30,400.31 L209.25,399.71 L212.19,399.12 L215.14,398.56 L218.08,398.03 L221.03,397.52 L223.98,397.03 L226.92,396.56 L229.87,396.11 L232.81,395.68 L235.76,395.27" stroke="#3d5b8c" stroke-width="1.3" fill="none" stroke-dasharray="2.4,1.3"/>
<path d="M59.00,512.00 L61.95,505.76 L64.89,499.81 L67.84,494.16 L70.78,488.78 L73.73,483.66 L76.68,478.78 L79.62,474.14 L82.57,469.73 L85.51,465.52 L88.46,461.52 L91.41,457.72 L94.35,454.10 L97.30,450.65 L100.24,447.37 L103.19,444.25 L106.14,441.28 L109.08,438.45 L112.03,435.76 L114.97,433.19 L117.92,430.76 L120.87,428.44 L123.81,426.23 L126.76,424.13 L129.70,422.13 L132.65,420.22 L135.60,418.41 L138.54,416.69 L141.49,415.05 L144.43,413.49 L147.38,412.00 L150.33,410.59 L153.27,409.24 L156.22,407.96 L159.16,406.74 L162.11,405.58 L165.06,404.48 L168.00,403.43 L170.95,402.43 L173.89,401.47 L176.84,400.57 L179.79,399.71 L182.73,398.89 L185.68,398.11 L188.62,397.36 L191.57,396.65 L194.52,395.98 L197.46,395.34 L200.41,394.73 L203.35,394.15 L206.30,393.60 L209.25,393.07 L212.19,392.57 L215.14,392.10 L218.08,391.64 L221.03,391.21 L223.98,390.80 L226.92,390.41 L229.87,390.04 L232.81,389.69 L235.76,389.35" stroke="#3d5b8c" stroke-width="1.4" fill="none"/>
<path d="M59.00,512.00 L61.95,505.42 L64.89,499.17 L67.84,493.23 L70.78,487.59 L73.73,482.23 L76.68,477.14 L79.62,472.31 L82.57,467.71 L85.51,463.35 L88.46,459.21 L91.41,455.28 L94.35,451.54 L97.30,447.99 L100.24,444.62 L103.19,441.41 L106.14,438.37 L109.08,435.48 L112.03,432.74 L114.97,430.13 L117.92,427.65 L120.87,425.30 L123.81,423.07 L126.76,420.95 L129.70,418.93 L132.65,417.02 L135.60,415.20 L138.54,413.47 L141.49,411.83 L144.43,410.27 L147.38,408.79 L150.33,407.38 L153.27,406.05 L156.22,404.78 L159.16,403.57 L162.11,402.43 L165.06,401.34 L168.00,400.31 L170.95,399.33 L173.89,398.40 L176.84,397.51 L179.79,396.67 L182.73,395.87 L185.68,395.11 L188.62,394.39 L191.57,393.71 L194.52,393.06 L197.46,392.44 L200.41,391.86 L203.35,391.30 L206.30,390.77 L209.25,390.27 L212.19,389.79 L215.14,389.34 L218.08,388.91 L221.03,388.50 L223.98,388.11 L226.92,387.74 L229.87,387.39 L232.81,387.06 L235.76,386.74" stroke="#a8283e" stroke-width="1.6" fill="none"/>
<path d="M59.00,512.00 L61.95,505.44 L64.89,499.22 L67.84,493.30 L70.78,487.68 L73.73,482.35 L76.68,477.28 L79.62,472.47 L82.57,467.89 L85.51,463.55 L88.46,459.42 L91.41,455.50 L94.35,451.78 L97.30,448.25 L100.24,444.89 L103.19,441.70 L106.14,438.67 L109.08,435.79 L112.03,433.05 L114.97,430.46 L117.92,427.99 L120.87,425.65 L123.81,423.42 L126.76,421.31 L129.70,419.30 L132.65,417.39 L135.60,415.58 L138.54,413.86 L141.49,412.23 L144.43,410.68 L147.38,409.20 L150.33,407.80 L153.27,406.47 L156.22,405.21 L159.16,404.01 L162.11,402.87 L165.06,401.78 L168.00,400.76 L170.95,399.78 L173.89,398.85 L176.84,397.97 L179.79,397.13 L182.73,396.34 L185.68,395.58 L188.62,394.86 L191.57,394.18 L194.52,393.54 L197.46,392.92 L200.41,392.34 L203.35,391.78 L206.30,391.26 L209.25,390.75 L212.19,390.28 L215.14,389.83 L218.08,389.40 L221.03,388.99 L223.98,388.60 L226.92,388.24 L229.87,387.89 L232.81,387.56 L235.76,387.24" stroke="#a8283e" stroke-width="1.2" fill="none" stroke-dasharray="2.4,1.3"/>
<rect x="57.05" y="510.05" width="3.90" height="3.90" fill="#fff" stroke="#a8283e" stroke-width="1.00"/>
<rect x="76.69" y="508.74" width="3.90" height="3.90" fill="#fff" stroke="#a8283e" stroke-width="1.00"/>
<rect x="96.33" y="496.27" width="3.90" height="3.90" fill="#fff" stroke="#a8283e" stroke-width="1.00"/>
<rect x="115.97" y="487.74" width="3.90" height="3.90" fill="#fff" stroke="#a8283e" stroke-width="1.00"/>
<rect x="135.61" y="484.19" width="3.90" height="3.90" fill="#fff" stroke="#a8283e" stroke-width="1.00"/>
<rect x="165.07" y="479.07" width="3.90" height="3.90" fill="#fff" stroke="#a8283e" stroke-width="1.00"/>
<rect x="194.53" y="470.94" width="3.90" height="3.90" fill="#fff" stroke="#a8283e" stroke-width="1.00"/>
<rect x="233.81" y="459.39" width="3.90" height="3.90" fill="#fff" stroke="#a8283e" stroke-width="1.00"/>
<path d="M78.64,500.19 V492.31 M77.14,500.19 h3.00 M77.14,492.31 h3.00" stroke="#3d5b8c" stroke-width="0.9" fill="none"/>
<path d="M78.64,492.31 V484.44 M77.14,492.31 h3.00 M77.14,484.44 h3.00" stroke="#3d5b8c" stroke-width="0.9" fill="none"/>
<path d="M98.28,459.50 V449.00 M96.78,459.50 h3.00 M96.78,449.00 h3.00" stroke="#3d5b8c" stroke-width="0.9" fill="none"/>
<path d="M78.64,483.12 V476.56 M77.14,483.12 h3.00 M77.14,476.56 h3.00" stroke="#a8283e" stroke-width="0.9" fill="none"/>
<path d="M98.28,442.44 V435.88 M96.78,442.44 h3.00 M96.78,435.88 h3.00" stroke="#a8283e" stroke-width="0.9" fill="none"/>
<polygon points="78.64,486.53 75.64,491.63 81.64,491.63" fill="#fff" stroke="#3d5b8c" stroke-width="1"/>
<polygon points="98.28,453.45 95.28,458.55 101.28,458.55" fill="#fff" stroke="#3d5b8c" stroke-width="1"/>
<polygon points="117.92,432.06 114.92,437.16 120.92,437.16" fill="#fff" stroke="#3d5b8c" stroke-width="1"/>
<polygon points="137.56,422.21 134.56,427.31 140.56,427.31" fill="#fff" stroke="#3d5b8c" stroke-width="1"/>
<polygon points="167.02,411.71 164.02,416.81 170.02,416.81" fill="#fff" stroke="#3d5b8c" stroke-width="1"/>
<polygon points="196.48,402.53 193.48,407.63 199.48,407.63" fill="#fff" stroke="#3d5b8c" stroke-width="1"/>
<polygon points="235.76,395.96 232.76,401.06 238.76,401.06" fill="#fff" stroke="#3d5b8c" stroke-width="1"/>
<polygon points="78.64,483.24 75.64,488.34 81.64,488.34" fill="#3d5b8c"/>
<polygon points="98.28,441.90 95.28,447.00 101.28,447.00" fill="#3d5b8c"/>
<polygon points="117.92,420.24 114.92,425.34 120.92,425.34" fill="#3d5b8c"/>
<polygon points="137.56,411.06 134.56,416.16 140.56,416.16" fill="#3d5b8c"/>
<polygon points="167.02,402.53 164.02,407.63 170.02,407.63" fill="#3d5b8c"/>
<polygon points="196.48,395.96 193.48,401.06 199.48,401.06" fill="#3d5b8c"/>
<polygon points="235.76,390.71 232.76,395.81 238.76,395.81" fill="#3d5b8c"/>
<polygon points="78.64,493.74 75.64,498.84 81.64,498.84" fill="#3d5b8c"/>
<polygon points="98.28,450.30 95.28,455.40 101.28,455.40" fill="#3d5b8c"/>
<polygon points="117.92,428.78 114.92,433.88 120.92,433.88" fill="#3d5b8c"/>
<polygon points="137.56,420.90 134.56,426.00 140.56,426.00" fill="#3d5b8c"/>
<polygon points="167.02,410.40 164.02,415.50 170.02,415.50" fill="#3d5b8c"/>
<polygon points="196.48,401.21 193.48,406.31 199.48,406.31" fill="#3d5b8c"/>
<polygon points="235.76,395.18 232.76,400.28 238.76,400.28" fill="#3d5b8c"/>
<rect x="76.19" y="476.74" width="4.90" height="4.90" fill="#a8283e"/>
<rect x="95.83" y="439.99" width="4.90" height="4.90" fill="#a8283e"/>
<rect x="115.47" y="420.30" width="4.90" height="4.90" fill="#a8283e"/>
<rect x="135.11" y="411.11" width="4.90" height="4.90" fill="#a8283e"/>
<rect x="164.57" y="402.19" width="4.90" height="4.90" fill="#a8283e"/>
<rect x="194.03" y="395.36" width="4.90" height="4.90" fill="#a8283e"/>
<rect x="233.31" y="390.77" width="4.90" height="4.90" fill="#a8283e"/>
<rect x="76.19" y="478.71" width="4.90" height="4.90" fill="#a8283e"/>
<rect x="95.83" y="437.36" width="4.90" height="4.90" fill="#a8283e"/>
<rect x="115.47" y="418.33" width="4.90" height="4.90" fill="#a8283e"/>
<rect x="135.11" y="409.14" width="4.90" height="4.90" fill="#a8283e"/>
<rect x="164.57" y="401.40" width="4.90" height="4.90" fill="#a8283e"/>
<rect x="194.03" y="394.84" width="4.90" height="4.90" fill="#a8283e"/>
<rect x="233.31" y="389.85" width="4.90" height="4.90" fill="#a8283e"/>
<rect x="56.00" y="509.00" width="6.00" height="6.00" fill="#a8283e"/>
<path d="M98.28,509.38 V504.12 M96.78,509.38 h3.00 M96.78,504.12 h3.00" stroke="#6aaa4e" stroke-width="0.9" fill="none"/>
<path d="M167.02,510.69 V502.16 M165.52,510.69 h3.00 M165.52,502.16 h3.00" stroke="#6aaa4e" stroke-width="0.9" fill="none"/>
<path d="M196.48,508.06 V503.47 M194.98,508.06 h3.00 M194.98,503.47 h3.00" stroke="#6aaa4e" stroke-width="0.9" fill="none"/>
<path d="M235.76,502.81 V493.62 M234.26,502.81 h3.00 M234.26,493.62 h3.00" stroke="#6aaa4e" stroke-width="0.9" fill="none"/>
<circle cx="59.00" cy="512.00" r="2.40" fill="#fff" stroke="#6aaa4e" stroke-width="1"/>
<circle cx="78.64" cy="511.61" r="2.40" fill="#fff" stroke="#6aaa4e" stroke-width="1"/>
<circle cx="98.28" cy="508.72" r="2.40" fill="#fff" stroke="#6aaa4e" stroke-width="1"/>
<circle cx="117.92" cy="508.72" r="2.40" fill="#fff" stroke="#6aaa4e" stroke-width="1"/>
<circle cx="137.56" cy="509.11" r="2.40" fill="#fff" stroke="#6aaa4e" stroke-width="1"/>
<circle cx="167.02" cy="508.06" r="2.40" fill="#fff" stroke="#6aaa4e" stroke-width="1"/>
<circle cx="196.48" cy="507.41" r="2.40" fill="#fff" stroke="#6aaa4e" stroke-width="1"/>
<circle cx="235.76" cy="499.53" r="2.40" fill="#fff" stroke="#6aaa4e" stroke-width="1"/>
<circle cx="59.00" cy="512.00" r="2.90" fill="#6aaa4e"/>
<circle cx="78.64" cy="511.34" r="2.90" fill="#6aaa4e"/>
<circle cx="98.28" cy="507.41" r="2.90" fill="#6aaa4e"/>
<circle cx="117.92" cy="508.06" r="2.90" fill="#6aaa4e"/>
<circle cx="137.56" cy="508.32" r="2.90" fill="#6aaa4e"/>
<circle cx="167.02" cy="506.75" r="2.90" fill="#6aaa4e"/>
<circle cx="196.48" cy="505.44" r="2.90" fill="#6aaa4e"/>
<circle cx="235.76" cy="498.22" r="2.90" fill="#6aaa4e"/>
<circle cx="59.00" cy="511.74" r="2.90" fill="#6aaa4e"/>
<circle cx="78.64" cy="511.74" r="2.90" fill="#6aaa4e"/>
<circle cx="98.28" cy="511.74" r="2.90" fill="#6aaa4e"/>
<circle cx="117.92" cy="511.74" r="2.90" fill="#6aaa4e"/>
<circle cx="137.56" cy="511.74" r="2.90" fill="#6aaa4e"/>
<circle cx="167.02" cy="511.74" r="2.90" fill="#6aaa4e"/>
<circle cx="196.48" cy="511.74" r="2.90" fill="#6aaa4e"/>
<circle cx="235.76" cy="511.74" r="2.90" fill="#6aaa4e"/>
<path d="M241.9,383.1 V398.8 M241.9,391.2 H257.5 V481.1 H241.9 M241.9,458.2 V503.4" stroke="#555" stroke-width="1.4" fill="none"/>
<ellipse cx="261.8" cy="430.60" rx="1.4" ry="1.1" fill="#444"/>
<ellipse cx="261.8" cy="434.20" rx="1.4" ry="1.1" fill="#444"/>
<ellipse cx="261.8" cy="437.80" rx="1.4" ry="1.1" fill="#444"/>
<ellipse cx="261.8" cy="441.40" rx="1.4" ry="1.1" fill="#444"/>
<path d="M278.5,393.80 H289.6" stroke="#6aaa4e" stroke-width="1.1"/>
<circle cx="284.00" cy="393.80" r="2.90" fill="#6aaa4e"/>
<text x="293.10" y="396.60" font-size="8.30" fill="#2a2a2a" text-anchor="start" textLength="62.70" lengthAdjust="spacingAndGlyphs" stroke="#2a2a2a" stroke-width="0.20" >Mock T-cells:BL-41</text>
<path d="M278.5,406.56 H289.6" stroke="#a8283e" stroke-width="1.1"/>
<rect x="281.10" y="403.66" width="5.80" height="5.80" fill="#a8283e"/>
<text x="293.10" y="409.36" font-size="8.30" fill="#2a2a2a" text-anchor="start" textLength="76.50" lengthAdjust="spacingAndGlyphs" stroke="#2a2a2a" stroke-width="0.20" >CD19CART-cells:BL-41</text>
<path d="M278.5,419.32 H289.6" stroke="#3d5b8c" stroke-width="1.1"/>
<polygon points="284.00,416.46 281.00,421.56 287.00,421.56" fill="#3d5b8c"/>
<text x="293.10" y="422.12" font-size="8.30" fill="#2a2a2a" text-anchor="start" textLength="76.50" lengthAdjust="spacingAndGlyphs" stroke="#2a2a2a" stroke-width="0.20" >CD37CART-cells:BL-41</text>
<path d="M278.5,432.08 H289.6" stroke="#6aaa4e" stroke-width="1.1"/>
<circle cx="284.00" cy="432.08" r="2.40" fill="#fff" stroke="#6aaa4e" stroke-width="1"/>
<text x="293.10" y="434.88" font-size="8.30" fill="#2a2a2a" text-anchor="start" textLength="98.40" lengthAdjust="spacingAndGlyphs" stroke="#2a2a2a" stroke-width="0.20" >Mock T-cells:CD19CAR BL-41</text>
<path d="M278.5,444.84 H289.6" stroke="#a8283e" stroke-width="1.1"/>
<rect x="281.60" y="442.44" width="4.80" height="4.80" fill="#fff" stroke="#a8283e" stroke-width="1.00"/>
<text x="293.10" y="447.64" font-size="8.30" fill="#2a2a2a" text-anchor="start" textLength="112.40" lengthAdjust="spacingAndGlyphs" stroke="#2a2a2a" stroke-width="0.20" >CD19CART-cells:CD19CAR BL-41</text>
<path d="M278.5,457.60 H289.6" stroke="#3d5b8c" stroke-width="1.1"/>
<polygon points="284.00,454.74 281.00,459.84 287.00,459.84" fill="#fff" stroke="#3d5b8c" stroke-width="1"/>
<text x="293.10" y="460.40" font-size="8.30" fill="#2a2a2a" text-anchor="start" textLength="112.40" lengthAdjust="spacingAndGlyphs" stroke="#2a2a2a" stroke-width="0.20" >CD37CART-cells:CD19CAR BL-41</text>
<path d="M278.5,470.36 H289.6" stroke="#6aaa4e" stroke-width="1.3" stroke-dasharray="1.2,2.0"/>
<circle cx="284.00" cy="470.36" r="2.90" fill="#6aaa4e"/>
<text x="293.10" y="473.16" font-size="8.30" fill="#2a2a2a" text-anchor="start" textLength="98.40" lengthAdjust="spacingAndGlyphs" stroke="#2a2a2a" stroke-width="0.20" >Mock T-cells:CD37CAR BL-41</text>
<path d="M278.5,483.12 H281.6 M287.6,483.12 H289.6" stroke="#a8283e" stroke-width="1.2"/>
<rect x="281.10" y="480.22" width="5.80" height="5.80" fill="#a8283e"/>
<text x="293.10" y="485.92" font-size="8.30" fill="#2a2a2a" text-anchor="start" textLength="112.40" lengthAdjust="spacingAndGlyphs" stroke="#2a2a2a" stroke-width="0.20" >CD19CART-cells:CD37CAR BL-41</text>
<path d="M278.5,495.88 H289.6" stroke="#3d5b8c" stroke-width="1.3" stroke-dasharray="1.2,2.0"/>
<polygon points="284.00,493.02 281.00,498.12 287.00,498.12" fill="#3d5b8c"/>
<text x="293.10" y="498.68" font-size="8.30" fill="#2a2a2a" text-anchor="start" textLength="112.40" lengthAdjust="spacingAndGlyphs" stroke="#2a2a2a" stroke-width="0.20" >CD37CART-cells:CD37CAR BL-41</text>
<rect x="0" y="0" width="520" height="1" fill="#000"/>
<rect x="519" y="0" width="1" height="550" fill="#000"/>
<rect x="0" y="0" width="2" height="550" fill="#555"/>
<rect x="0" y="548" width="519" height="2" fill="#555"/>
</svg>
</body></html>
